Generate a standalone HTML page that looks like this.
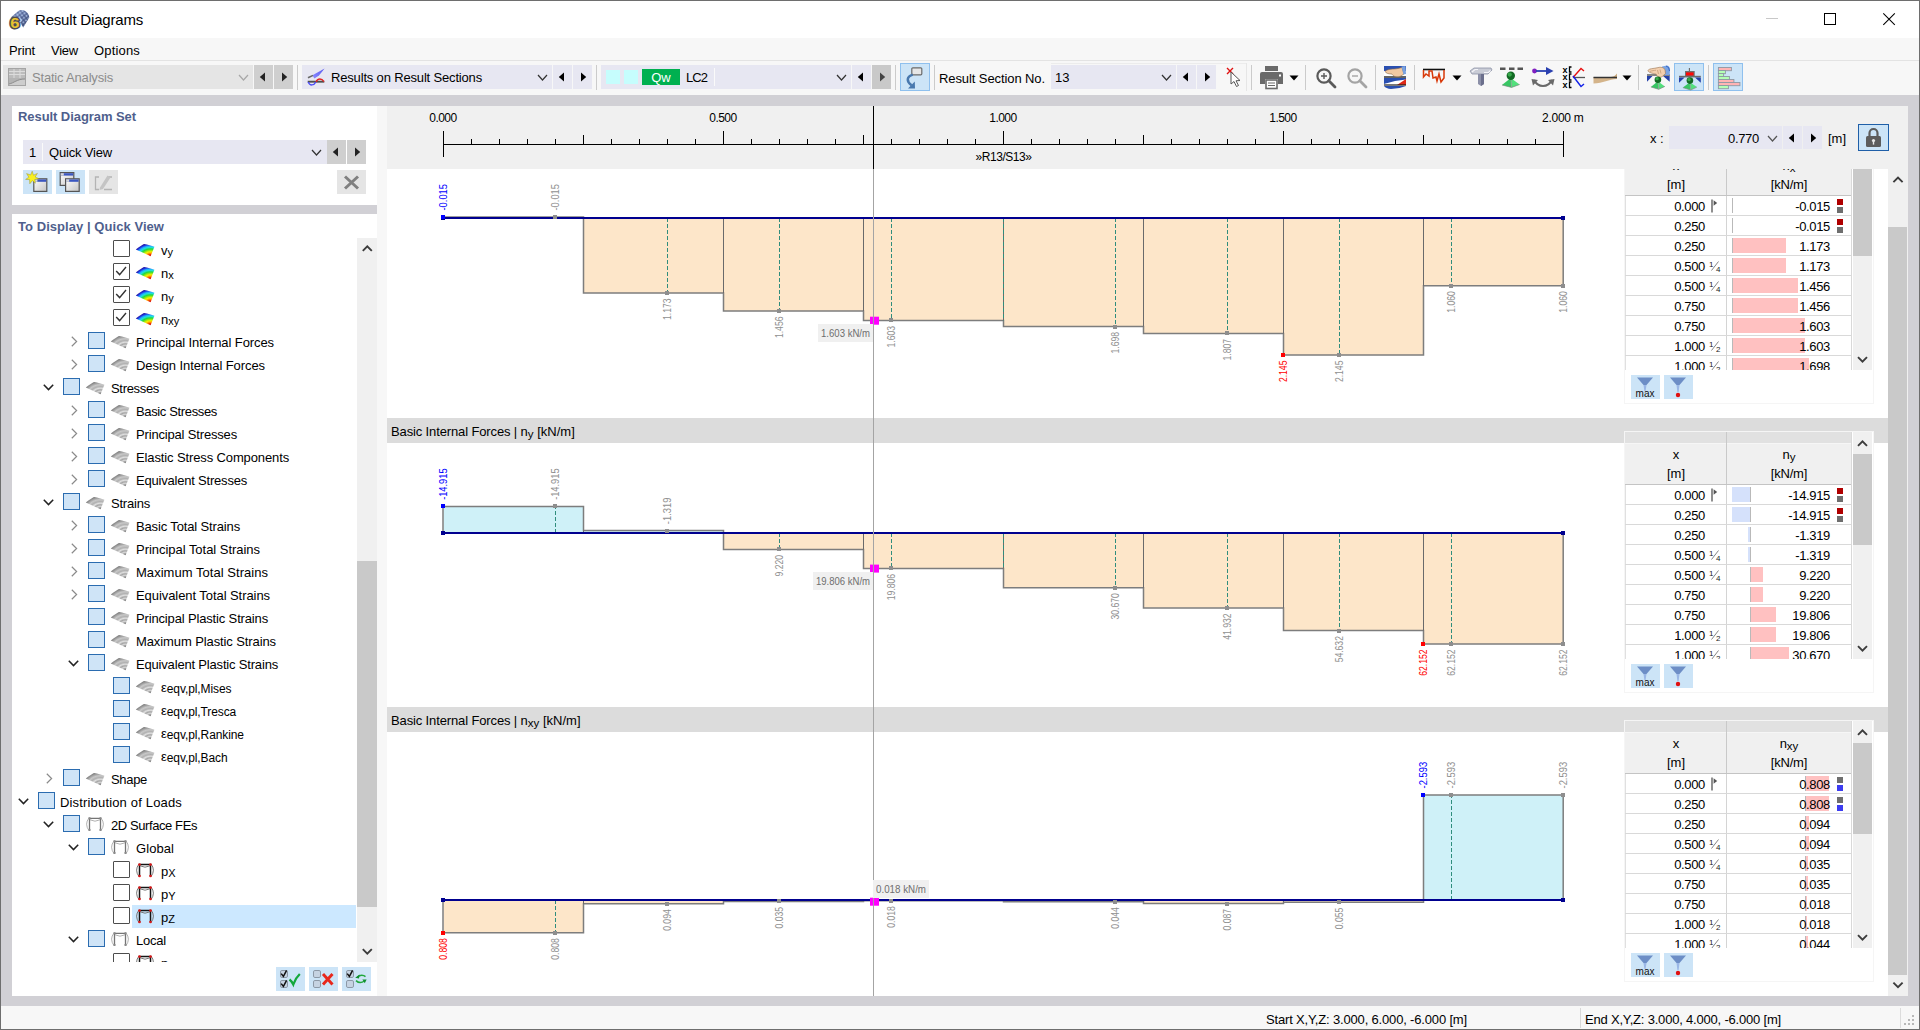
<!DOCTYPE html>
<html><head><meta charset="utf-8"><title>Result Diagrams</title>
<style>
html,body{margin:0;padding:0;}
body{width:1920px;height:1030px;overflow:hidden;position:relative;font-family:"Liberation Sans",sans-serif;font-size:13px;background:#d1d0d5;}
svg{display:block;overflow:visible;}
</style></head><body>
<div style="position:absolute;left:0px;top:0px;width:1920px;height:1030px;background:#d1d0d5;"></div>
<div style="position:absolute;left:0px;top:0px;width:1920px;height:1px;background:#6e6e6e;"></div>
<div style="position:absolute;left:0px;top:0px;width:1px;height:1030px;background:#6e6e6e;"></div>
<div style="position:absolute;left:1919px;top:0px;width:1px;height:1030px;background:#6e6e6e;"></div>
<div style="position:absolute;left:0px;top:1029px;width:1920px;height:1px;background:#6e6e6e;"></div>
<div style="position:absolute;left:1px;top:1px;width:1918px;height:37px;background:#ffffff;"></div>
<svg style="position:absolute;left:4px;top:4px;" width="32" height="30" viewBox="0 0 32 30">
      <defs><linearGradient id="ig" x1="0" y1="0" x2="1" y2="1"><stop offset="0" stop-color="#a4b6dc"/><stop offset="0.45" stop-color="#6c7fae"/><stop offset="1" stop-color="#3b4870"/></linearGradient>
      <pattern id="ck" width="3.2" height="3.2" patternUnits="userSpaceOnUse" patternTransform="rotate(-38)"><rect width="3.2" height="3.2" fill="none"/><rect width="1.6" height="1.6" fill="#c4d8f8" opacity="0.55"/><rect x="1.6" y="1.6" width="1.6" height="1.6" fill="#2a3868" opacity="0.35"/></pattern></defs>
      <path d="M6.7 13.6 L14.3 6.9 Q18 5.2 21.5 7.2 Q25 9.6 25.3 13.4 L19.2 23.6 Q16.5 18.2 12.8 15.8 Q9.5 14.4 6.7 13.6 Z" fill="url(#ig)"/>
      <path d="M6.7 13.6 L14.3 6.9 Q18 5.2 21.5 7.2 Q25 9.6 25.3 13.4 L19.2 23.6 Q16.5 18.2 12.8 15.8 Q9.5 14.4 6.7 13.6 Z" fill="url(#ck)"/>
      <ellipse cx="15.5" cy="16" rx="2" ry="2.6" fill="#d8eaff" opacity="0.75" transform="rotate(-30 15.5 16)"/>
      <g transform="translate(10.8 24.2) scale(1.18 1)" font-size="14" font-weight="bold" text-anchor="middle" font-family="Liberation Sans"><text x="0" y="0" fill="#4c4c52" stroke="#4c4c52" stroke-width="2.8" stroke-linejoin="round">6</text><text x="0" y="0" fill="#e8c230">6</text></g>
    </svg>
<div style="position:absolute;left:35px;top:9.0px;line-height:21px;font-size:15px;color:#000;white-space:pre;letter-spacing:-0.191px;">Result Diagrams</div>
<div style="position:absolute;left:1766px;top:18px;width:12px;height:1px;background:#c8c8c8;"></div>
<svg style="position:absolute;left:1824px;top:13px;" width="12" height="12" viewBox="0 0 12 12"><rect x="0.5" y="0.5" width="11" height="11" fill="none" stroke="#000" stroke-width="1"/></svg>
<svg style="position:absolute;left:1883px;top:13px;" width="12" height="12" viewBox="0 0 12 12"><path d="M0.3 0.3 L11.8 11.8 M11.8 0.3 L0.3 11.8" stroke="#000" stroke-width="1.1"/></svg>
<div style="position:absolute;left:1px;top:38px;width:1918px;height:23px;background:#f7f7f7;"></div>
<div style="position:absolute;left:9px;top:40.5px;line-height:19px;font-size:13px;color:#000;white-space:pre;letter-spacing:-0.146px;">Print</div>
<div style="position:absolute;left:51px;top:40.5px;line-height:19px;font-size:13px;color:#000;white-space:pre;letter-spacing:-0.235px;">View</div>
<div style="position:absolute;left:94px;top:40.5px;line-height:19px;font-size:13px;color:#000;white-space:pre;letter-spacing:0.171px;">Options</div>
<div style="position:absolute;left:1px;top:60px;width:1918px;height:1px;background:#e3e3e3;"></div>
<div style="position:absolute;left:1px;top:61px;width:1918px;height:34px;background:#f7f7f7;"></div>
<div style="position:absolute;left:3px;top:65px;width:250px;height:24px;background:#e5e5e5;"></div>
<svg style="position:absolute;left:8px;top:68px;" width="18" height="18" viewBox="0 0 18 18"><rect x="0" y="0" width="18" height="18" fill="#a4a4a4"/>
      <rect x="1" y="1" width="16" height="9" fill="#bcbcbc"/>
      <path d="M1 3.5 H17 M1 6.5 H17 M6 1 V10 M12 1 V10" stroke="#dcdcdc" stroke-width="1"/>
      <path d="M1 10 H17 V11 C9 11 6 15 1 16 Z" fill="#b4b4b4"/>
      <path d="M1 16 C6 15 9 11 17 11 V17 H1 Z" fill="#cdcdcd"/><path d="M1 16 C6 15 9 11 17 11" stroke="#8e8e8e" fill="none"/></svg>
<div style="position:absolute;left:32px;top:67.5px;line-height:19px;font-size:13px;color:#8c8c8c;white-space:pre;letter-spacing:-0.188px;">Static Analysis</div>
<svg style="position:absolute;left:238.0px;top:74.0px;" width="11" height="7" viewBox="0 0 11 7"><polyline points="1,1 5.5,6 10,1" fill="none" stroke="#a8a8a8" stroke-width="1.2"/></svg>
<div style="position:absolute;left:254px;top:65px;width:19px;height:24px;background:#cfcfcf;"></div>
<svg style="position:absolute;left:259px;top:72px;" width="8" height="10" viewBox="0 0 8 10"><polygon points="6,0.5 6,9.5 0.8,5" fill="#222"/></svg>
<div style="position:absolute;left:274px;top:65px;width:19px;height:24px;background:#cfcfcf;"></div>
<svg style="position:absolute;left:280px;top:72px;" width="8" height="10" viewBox="0 0 8 10"><polygon points="2,0.5 2,9.5 7.2,5" fill="#222"/></svg>
<div style="position:absolute;left:297px;top:65px;width:1px;height:25px;background:#cbcbcb;"></div>
<div style="position:absolute;left:302px;top:65px;width:250px;height:24px;background:#e7e7f2;"></div>
<svg style="position:absolute;left:307px;top:67px;" width="19" height="19" viewBox="0 0 19 19"><defs><linearGradient id="bl" x1="0" y1="1" x2="1" y2="0"><stop offset="0" stop-color="#8a8aff"/><stop offset="1" stop-color="#5a5af0"/></linearGradient></defs>
      <path d="M5.5 8.2 L17.6 1.4 L12 8.6 L7.4 11.4 Z" fill="url(#bl)"/>
      <path d="M1 10.8 L6 8.4" stroke="#686868" stroke-width="1.6"/>
      <path d="M0.7 14.7 H17.3" stroke="#4e4e4e" stroke-width="1.9"/>
      <path d="M1.2 15 C3 19.2 6.6 18.8 9 14.8" stroke="#4a4af8" stroke-width="1.3" fill="none"/>
      <path d="M9 14.8 C11 11 14.6 11.2 17 14.6" stroke="#e02424" stroke-width="1.4" fill="none"/></svg>
<div style="position:absolute;left:331px;top:67.5px;line-height:19px;font-size:13px;color:#000;white-space:pre;letter-spacing:-0.167px;">Results on Result Sections</div>
<svg style="position:absolute;left:537.0px;top:74.0px;" width="11" height="7" viewBox="0 0 11 7"><polyline points="1,1 5.5,6 10,1" fill="none" stroke="#333" stroke-width="1.2"/></svg>
<div style="position:absolute;left:553px;top:65px;width:19px;height:24px;background:#e7e7f2;"></div>
<svg style="position:absolute;left:558px;top:72px;" width="8" height="10" viewBox="0 0 8 10"><polygon points="6,0.5 6,9.5 0.8,5" fill="#000"/></svg>
<div style="position:absolute;left:573px;top:65px;width:19px;height:24px;background:#e7e7f2;"></div>
<svg style="position:absolute;left:579px;top:72px;" width="8" height="10" viewBox="0 0 8 10"><polygon points="2,0.5 2,9.5 7.2,5" fill="#000"/></svg>
<div style="position:absolute;left:596px;top:65px;width:1px;height:25px;background:#cbcbcb;"></div>
<div style="position:absolute;left:601px;top:65px;width:250px;height:24px;background:#e7e7f2;"></div>
<div style="position:absolute;left:606px;top:70px;width:14px;height:14px;background:#c6fdfd;"></div>
<div style="position:absolute;left:624px;top:70px;width:14px;height:14px;background:#c6fdfd;"></div>
<div style="position:absolute;left:642px;top:69px;width:38px;height:16px;background:#00b050;"></div>
<div style="position:absolute;left:461px;width:400px;text-align:center;top:68.0px;line-height:19px;font-size:13px;color:#fff;white-space:pre;">Qw</div>
<div style="position:absolute;left:686px;top:67.5px;line-height:19px;font-size:13px;color:#000;white-space:pre;letter-spacing:-0.949px;">LC2</div>
<div style="position:absolute;left:714px;top:68px;width:1px;height:18px;background:#fafafa;"></div>
<svg style="position:absolute;left:836.0px;top:74.0px;" width="11" height="7" viewBox="0 0 11 7"><polyline points="1,1 5.5,6 10,1" fill="none" stroke="#333" stroke-width="1.2"/></svg>
<div style="position:absolute;left:852px;top:65px;width:19px;height:24px;background:#e7e7f2;"></div>
<svg style="position:absolute;left:857px;top:72px;" width="8" height="10" viewBox="0 0 8 10"><polygon points="6,0.5 6,9.5 0.8,5" fill="#000"/></svg>
<div style="position:absolute;left:872px;top:65px;width:19px;height:24px;background:#c9c9c9;"></div>
<svg style="position:absolute;left:878px;top:72px;" width="8" height="10" viewBox="0 0 8 10"><polygon points="2,0.5 2,9.5 7.2,5" fill="#444"/></svg>
<div style="position:absolute;left:895px;top:65px;width:1px;height:25px;background:#cbcbcb;"></div>
<div style="position:absolute;left:900px;top:63px;width:30px;height:28px;background:#cce4f7;box-sizing:border-box;border:1px solid #8fc0ee;"></div>
<svg style="position:absolute;left:904px;top:66px;" width="22" height="22" viewBox="0 0 22 22"><rect x="7.8" y="1.8" width="10" height="7" rx="1" fill="#e6e6e6" stroke="#6a6a6a" stroke-width="1.2"/>
       <path d="M8.8 8.6 C2.5 10.5 2.2 15.5 7.5 19.2" stroke="#4878ae" stroke-width="2.5" fill="none"/>
       <polygon points="4,22.6 11,22.6 10.8,15.4" fill="#4878ae"/></svg>
<div style="position:absolute;left:934px;top:65px;width:1px;height:25px;background:#cbcbcb;"></div>
<div style="position:absolute;left:939px;top:68.5px;line-height:19px;font-size:13px;color:#000;white-space:pre;letter-spacing:-0.092px;">Result Section No.</div>
<div style="position:absolute;left:1051px;top:65px;width:125px;height:24px;background:#e7e7f2;"></div>
<div style="position:absolute;left:1051px;top:63px;width:196px;height:1px;background:#ececec;"></div>
<div style="position:absolute;left:1246px;top:63px;width:1px;height:28px;background:#e6e6e6;"></div>
<div style="position:absolute;left:1055px;top:67.5px;line-height:19px;font-size:13px;color:#000;white-space:pre;">13</div>
<svg style="position:absolute;left:1161.0px;top:74.0px;" width="11" height="7" viewBox="0 0 11 7"><polyline points="1,1 5.5,6 10,1" fill="none" stroke="#333" stroke-width="1.2"/></svg>
<div style="position:absolute;left:1177px;top:65px;width:19px;height:24px;background:#e7e7f2;"></div>
<svg style="position:absolute;left:1182px;top:72px;" width="8" height="10" viewBox="0 0 8 10"><polygon points="6,0.5 6,9.5 0.8,5" fill="#000"/></svg>
<div style="position:absolute;left:1197px;top:65px;width:19px;height:24px;background:#e7e7f2;"></div>
<svg style="position:absolute;left:1203px;top:72px;" width="8" height="10" viewBox="0 0 8 10"><polygon points="2,0.5 2,9.5 7.2,5" fill="#000"/></svg>
<svg style="position:absolute;left:1225px;top:66px;" width="18" height="22" viewBox="0 0 18 22"><path d="M2 2 L8 8 M8 2 L2 8" stroke="#e01010" stroke-width="1.4"/>
      <path d="M6 6 L6 18 L9 15.5 L11.5 20.5 L13.5 19.5 L11 14.8 L15 14.5 Z" fill="#fff" stroke="#555" stroke-width="1"/></svg>
<div style="position:absolute;left:1251px;top:65px;width:1px;height:25px;background:#cbcbcb;"></div>
<svg style="position:absolute;left:1260px;top:66px;" width="24" height="24" viewBox="0 0 24 24"><rect x="5" y="0" width="13" height="5" fill="#6a6a6a"/>
      <path d="M2 6 H21 Q23 6 23 8 V18 H18 V13 H5 V18 H0 V8 Q0 6 2 6 Z" fill="#6a6a6a"/>
      <rect x="19" y="8.5" width="2" height="2" fill="#fff"/>
      <rect x="6" y="14" width="11" height="8.5" fill="#fff" stroke="#6a6a6a" stroke-width="1.6"/>
      <path d="M8 17 H15 M8 19.5 H15" stroke="#6a6a6a" stroke-width="1.2"/></svg>
<svg style="position:absolute;left:1288.5px;top:74.5px;" width="10" height="6" viewBox="0 0 10 6"><polygon points="0.5,0.5 9.5,0.5 5,5.5" fill="#000"/></svg>
<div style="position:absolute;left:1305px;top:65px;width:1px;height:25px;background:#cbcbcb;"></div>
<svg style="position:absolute;left:1315px;top:67px;" width="22" height="22" viewBox="0 0 22 22"><circle cx="9" cy="9" r="6.6" fill="none" stroke="#5a5a5a" stroke-width="2.2"/><path d="M13.8 13.8 L20 20" stroke="#5a5a5a" stroke-width="2.8" stroke-linecap="round"/><path d="M6 9 H12 M9 6 V12" stroke="#5a5a5a" stroke-width="1.4"/></svg>
<svg style="position:absolute;left:1346px;top:67px;" width="22" height="22" viewBox="0 0 22 22"><circle cx="9" cy="9" r="6.6" fill="none" stroke="#a4a4a4" stroke-width="2.2"/><path d="M13.8 13.8 L20 20" stroke="#a4a4a4" stroke-width="2.8" stroke-linecap="round"/><path d="M6 9 H12" stroke="#a4a4a4" stroke-width="1.4"/></svg>
<div style="position:absolute;left:1375px;top:65px;width:1px;height:25px;background:#cbcbcb;"></div>
<svg style="position:absolute;left:1383px;top:66px;" width="24" height="24" viewBox="0 0 24 24"><rect x="1" y="0" width="22" height="5" fill="#2a4fb0"/>
      <rect x="1" y="5" width="22" height="6" fill="#fff"/><path d="M1 11 H23" stroke="#222" stroke-width="1.4"/>
      <path d="M1 12 H23 V15 L12 17 L1 18 Z" fill="#2a4fb0"/><path d="M1 18 L12 15 L23 13.5 V18 Z" fill="#fff"/>
      <path d="M23 13 V19 H14 Z" fill="#e02818"/><path d="M1 19 H23" stroke="#222" stroke-width="1.2"/>
      <path d="M1 20 H23 Q16 23 8 23 Q3 22.5 1 20 Z" fill="#2a4fb0"/>
      <path d="M2 5.5 C5 2.5 10 3.5 15 2.5 L19 1.5 L21 8 L17 10.5 C12 11.5 10 10 9 8 C6 8 3 7.5 2 5.5 Z" fill="#f2c9a2" stroke="#8a6a4a" stroke-width="0.6"/>
      <path d="M18.5 0.5 L22.5 0 L23 8 L20.5 8.5 Z" fill="#7aa2e0"/></svg>
<div style="position:absolute;left:1414px;top:65px;width:1px;height:25px;background:#cbcbcb;"></div>
<svg style="position:absolute;left:1422px;top:66px;" width="24" height="24" viewBox="0 0 24 24"><path d="M1 3.5 H23" stroke="#111" stroke-width="1.6"/>
      <path d="M1.5 4 V11 L4 8 L7 10 V5 L10 5 L11 12 L14 11 L15 15 L17 8 L19 16 L22 12 V4" fill="none" stroke="#d83808" stroke-width="1.5"/></svg>
<svg style="position:absolute;left:1451.5px;top:74.5px;" width="10" height="6" viewBox="0 0 10 6"><polygon points="0.5,0.5 9.5,0.5 5,5.5" fill="#000"/></svg>
<svg style="position:absolute;left:1469px;top:66px;" width="24" height="22" viewBox="0 0 24 22"><path d="M1 5 L5 2 H22 L23 4 L19 8 H3 Z" fill="#c9ccd6" stroke="#8d93a6" stroke-width="0.8"/>
      <path d="M3 6 L6 3.5 H9 M15 6.5 H19.5 L21.5 4.5" stroke="#f4f4f8" stroke-width="1.2" fill="none"/>
      <path d="M9 8 H15 V18 L12 20 L9 18 Z" fill="#8c90a8"/><path d="M12 8 H15 V18 L12 20 Z" fill="#6b6f8c"/></svg>
<svg style="position:absolute;left:1490px;top:60px;" width="40" height="35" viewBox="0 0 40 35"><path d="M10 8.7 H15.5 M19 8.7 H24.5 M27.5 8.7 H33" stroke="#555" stroke-width="2.4"/><polygon points="20.8,17.900000000000002 12.0,25.0 21.6,27.4" fill="#37c663"/><polygon points="20.8,17.900000000000002 21.6,27.4 29.6,24.5" fill="#52e07c"/><path d="M12.0 25.0 L21.6 27.4 L29.6 24.5" fill="none" stroke="#7a8a80" stroke-width="0.7"/><path d="M21.0 20.0 L21.6 27.4" stroke="#8aa092" stroke-width="0.8"/><circle cx="20.8" cy="15.8" r="4.2" fill="#126a24"/><circle cx="19.75" cy="14.540000000000001" r="2.1" fill="#3fb352" opacity="0.85"/></svg>
<svg style="position:absolute;left:1531px;top:66px;" width="24" height="24" viewBox="0 0 24 24"><circle cx="3.5" cy="5" r="2.4" fill="#8020c0"/><path d="M5 5 H16" stroke="#2a40b0" stroke-width="1.8"/><polygon points="15,1 22.5,5 15,9" fill="#2a40b0"/>
      <path d="M3 14 C7 22 17 22 21 14" stroke="#6a6a6a" stroke-width="2.2" fill="none"/>
      <polygon points="0.5,13 7,14 2,19.5" fill="#6a6a6a"/><polygon points="23.5,13 17,14 22,19.5" fill="#6a6a6a"/></svg>
<svg style="position:absolute;left:1562px;top:65px;" width="26" height="24" viewBox="0 0 26 24"><text x="0.5" y="7.5" font-size="9" font-weight="bold" font-family="Liberation Sans" fill="#000">x</text>
      <text x="0.5" y="15" font-size="9" font-weight="bold" font-family="Liberation Sans" fill="#000">x</text>
      <text x="0.5" y="23" font-size="9" font-weight="bold" font-family="Liberation Sans" fill="#000">x</text>
      <path d="M9.5 2 H7.5 V7 H9.5 M9.5 9 H7.5 V15 H9.5 M9.5 17 H7.5 V22.5 H9.5" stroke="#000" stroke-width="1.3" fill="none"/>
      <path d="M11 12.5 H23" stroke="#555" stroke-width="1.3"/>
      <path d="M11 12.5 L19 3.5 L22 6" stroke="#e81010" stroke-width="1.4" fill="none"/>
      <path d="M11 11 L19 21.5 L22 19" stroke="#1020e8" stroke-width="1.4" fill="none"/></svg>
<svg style="position:absolute;left:1593px;top:70px;" width="25" height="16" viewBox="0 0 25 16"><path d="M0.5 7 H18 C21 6.5 23 5 24 3.5 V7 V8 H0.5 Z" fill="#c9a97e"/>
      <path d="M0.5 8 H24 V9 C16 9 10 13.5 0.5 13.5 Z" fill="#d4b48a"/><path d="M0.5 7.5 H24" stroke="#333" stroke-width="1.5"/></svg>
<svg style="position:absolute;left:1622px;top:74.5px;" width="10" height="6" viewBox="0 0 10 6"><polygon points="0.5,0.5 9.5,0.5 5,5.5" fill="#000"/></svg>
<div style="position:absolute;left:1638px;top:65px;width:1px;height:25px;background:#cbcbcb;"></div>
<svg style="position:absolute;left:1640px;top:60px;" width="110" height="35" viewBox="0 0 110 35"><path d="M7 15 H30" stroke="#6a6a6a" stroke-width="1.6"/>
      <polygon points="7,16 12.5,16 7,21.8" fill="#2440a8"/><polygon points="23,16 29.7,16 29.7,21.8" fill="#2440a8"/>
      <path d="M22 6.5 L27 5.5 Q30 6 30 10 L29.7 15 L24 15 Z" fill="#7aa4e4"/><path d="M26 6 Q29.5 6.5 29.5 11" stroke="#2a5cc0" stroke-width="0.9" fill="none"/>
      <path d="M7.8 10.6 C9.5 8.2 13 8.8 17 7.8 L20 7.2 Q23.5 7 25 9.5 L25.5 13.5 L22 16.8 C19 18 17 16.5 16.2 14.2 C13 13.2 9 13.2 7.8 10.6 Z" fill="#f3cfae" stroke="#9a7450" stroke-width="0.6"/>
      <path d="M10 11.5 C12 10.5 14 10.6 16 10.2 M17.5 10 L18.5 14 M20 9.5 L21 13.5" stroke="#b98e68" stroke-width="0.6" fill="none"/><polygon points="17.9,21.349999999999998 10.899999999999999,26.9 18.7,29.299999999999997" fill="#37c663"/><polygon points="17.9,21.349999999999998 18.7,29.299999999999997 24.9,26.4" fill="#52e07c"/><path d="M10.899999999999999 26.9 L18.7 29.299999999999997 L24.9 26.4" fill="none" stroke="#7a8a80" stroke-width="0.7"/><path d="M18.099999999999998 23.0 L18.7 29.299999999999997" stroke="#8aa092" stroke-width="0.8"/><circle cx="17.9" cy="19.7" r="3.3" fill="#126a24"/><circle cx="17.075" cy="18.71" r="1.65" fill="#3fb352" opacity="0.85"/></svg>
<div style="position:absolute;left:1674px;top:63px;width:30px;height:28px;background:#cce4f7;box-sizing:border-box;border:1px solid #8fc0ee;"></div>
<svg style="position:absolute;left:1640px;top:60px;" width="110" height="35" viewBox="0 0 110 35"><path d="M49.4 8 V11.5" stroke="#666" stroke-width="1.1"/>
      <rect x="45" y="11" width="9.7" height="5.4" fill="#6e6e6e"/><rect x="46" y="12.4" width="7.6" height="3.2" fill="#ff0808"/>
      <path d="M39 16.6 H60.8" stroke="#6a6a6a" stroke-width="1.6"/>
      <polygon points="39,17.5 44.6,17.5 39,22.8" fill="#2440a8"/><polygon points="55,17.5 60.8,17.5 60.8,22.8" fill="#2440a8"/><polygon points="49.9,22.25 42.9,27.6 50.699999999999996,30.0" fill="#37c663"/><polygon points="49.9,22.25 50.699999999999996,30.0 56.9,27.1" fill="#52e07c"/><path d="M42.9 27.6 L50.699999999999996 30.0 L56.9 27.1" fill="none" stroke="#7a8a80" stroke-width="0.7"/><path d="M50.1 23.900000000000002 L50.699999999999996 30.0" stroke="#8aa092" stroke-width="0.8"/><circle cx="49.9" cy="20.6" r="3.3" fill="#126a24"/><circle cx="49.074999999999996" cy="19.610000000000003" r="1.65" fill="#3fb352" opacity="0.85"/></svg>
<div style="position:absolute;left:1708px;top:65px;width:1px;height:25px;background:#cbcbcb;"></div>
<div style="position:absolute;left:1713px;top:63px;width:30px;height:28px;background:#cce4f7;box-sizing:border-box;border:1px solid #8fc0ee;"></div>
<svg style="position:absolute;left:1640px;top:60px;" width="110" height="35" viewBox="0 0 110 35"><rect x="78.4" y="7.5" width="13" height="3.2" fill="#ffb4b4" stroke="#8e99a4" stroke-width="0.9"/><rect x="78.4" y="10.5" width="7" height="3.2" fill="#b4ffb4" stroke="#8e99a4" stroke-width="0.9"/><rect x="78.4" y="13.5" width="5.2" height="3.2" fill="#b4ffb4" stroke="#8e99a4" stroke-width="0.9"/><rect x="78.4" y="16.5" width="11" height="3.2" fill="#b4ffb4" stroke="#8e99a4" stroke-width="0.9"/><rect x="78.4" y="19.5" width="15.5" height="3.2" fill="#ffb4b4" stroke="#8e99a4" stroke-width="0.9"/><rect x="78.4" y="22.5" width="21.5" height="3.2" fill="#ffb4b4" stroke="#8e99a4" stroke-width="0.9"/><rect x="78.4" y="25.5" width="10" height="3.2" fill="#b4ffb4" stroke="#8e99a4" stroke-width="0.9"/></svg>
<div style="position:absolute;left:1px;top:1006px;width:1918px;height:23px;background:#f7f7f7;"></div>
<div style="position:absolute;left:1266px;top:1009.5px;line-height:19px;font-size:13px;color:#000;white-space:pre;letter-spacing:-0.167px;">Start X,Y,Z: 3.000, 6.000, -6.000 [m]</div>
<div style="position:absolute;left:1580px;top:1008px;width:1px;height:20px;background:#d8d8d8;"></div>
<div style="position:absolute;left:1585px;top:1009.5px;line-height:19px;font-size:13px;color:#000;white-space:pre;letter-spacing:-0.195px;">End X,Y,Z: 3.000, 4.000, -6.000 [m]</div>
<div style="position:absolute;left:1900px;top:1008px;width:1px;height:20px;background:#dcdcdc;"></div>
<svg style="position:absolute;left:1902px;top:1013px;" width="14" height="14" viewBox="0 0 14 14"><g fill="#b8b8b8"><rect x="10" y="2" width="2" height="2"/><rect x="6" y="6" width="2" height="2"/><rect x="10" y="6" width="2" height="2"/><rect x="2" y="10" width="2" height="2"/><rect x="6" y="10" width="2" height="2"/><rect x="10" y="10" width="2" height="2"/></g></svg>
<div style="position:absolute;left:12px;top:106px;width:365px;height:890px;background:#ffffff;"></div>
<div style="position:absolute;left:377px;top:106px;width:10px;height:890px;background:#f7f7f7;"></div>
<div style="position:absolute;left:12px;top:205px;width:365px;height:9px;background:#d1d0d5;"></div>
<div style="position:absolute;left:18px;top:106.8px;line-height:19px;font-size:13px;color:#4f5f8d;white-space:pre;font-weight:bold;letter-spacing:-0.067px;">Result Diagram Set</div>
<div style="position:absolute;left:23px;top:140px;width:304px;height:24px;background:#e7e7f2;"></div>
<div style="position:absolute;left:29px;top:142.5px;line-height:19px;font-size:13px;color:#000;white-space:pre;">1</div>
<div style="position:absolute;left:42px;top:143px;width:1px;height:18px;background:#fafafa;"></div>
<div style="position:absolute;left:49px;top:142.5px;line-height:19px;font-size:13px;color:#000;white-space:pre;letter-spacing:-0.178px;">Quick View</div>
<svg style="position:absolute;left:310.5px;top:149.0px;" width="11" height="7" viewBox="0 0 11 7"><polyline points="1,1 5.5,6 10,1" fill="none" stroke="#333" stroke-width="1.2"/></svg>
<div style="position:absolute;left:327px;top:140px;width:19px;height:24px;background:#cfcfcf;"></div>
<svg style="position:absolute;left:332px;top:147px;" width="8" height="10" viewBox="0 0 8 10"><polygon points="6,0.5 6,9.5 0.8,5" fill="#222"/></svg>
<div style="position:absolute;left:347px;top:140px;width:19px;height:24px;background:#cfcfcf;"></div>
<svg style="position:absolute;left:353px;top:147px;" width="8" height="10" viewBox="0 0 8 10"><polygon points="2,0.5 2,9.5 7.2,5" fill="#222"/></svg>
<div style="position:absolute;left:23px;top:170px;width:29px;height:24px;background:#cce4f7;"></div>
<div style="position:absolute;left:56px;top:170px;width:29px;height:24px;background:#cce4f7;"></div>
<div style="position:absolute;left:89px;top:170px;width:29px;height:24px;background:#e5e5e5;"></div>
<div style="position:absolute;left:337px;top:170px;width:29px;height:24px;background:#e5e5e5;"></div>
<svg style="position:absolute;left:26px;top:172px;" width="24" height="22" viewBox="0 0 24 22"><defs><linearGradient id="wg" x1="0" y1="0" x2="1" y2="1"><stop offset="0" stop-color="#ffffff"/><stop offset="1" stop-color="#c4c4c4"/></linearGradient></defs>
      <rect x="7.8" y="6.8" width="13" height="12.6" fill="url(#wg)" stroke="#555" stroke-width="1.2"/><rect x="8.4" y="7.4" width="11.8" height="2.4" fill="#3a56c0"/><rect x="8.4" y="7.4" width="3" height="2.4" fill="#d8d8d8"/>
      <path d="M6.2 -0.8 L7.5 3.2 L11.4 1.4 L9.2 5 L12.8 6.6 L8.8 7.4 L9.4 11.2 L6.4 8.6 L3.8 11.8 L3.6 7.6 L-0.4 7.4 L2.8 5.2 L0.6 1.6 L4.6 3 Z" fill="#f8f020" stroke="#9a9430" stroke-width="0.5"/></svg>
<svg style="position:absolute;left:59px;top:172px;" width="24" height="22" viewBox="0 0 24 22"><rect x="1.2" y="0.6" width="13.6" height="12.8" fill="url(#wg)" stroke="#555" stroke-width="1.2"/><rect x="1.8" y="1.2" width="12.4" height="2.4" fill="#3a56c0"/><rect x="1.8" y="1.2" width="3" height="2.4" fill="#d8d8d8"/>
      <rect x="6.6" y="6.8" width="13.6" height="12.6" fill="url(#wg)" stroke="#555" stroke-width="1.2"/><rect x="7.2" y="7.4" width="12.4" height="2.4" fill="#3a56c0"/><rect x="7.2" y="7.4" width="3" height="2.4" fill="#d8d8d8"/></svg>
<svg style="position:absolute;left:92px;top:172px;" width="24" height="22" viewBox="0 0 24 22"><path d="M7 5 H3.5 V17.5 H7 M12 17.5 H20 M15 5 H20" stroke="#b4b4b4" stroke-width="1.3" fill="none"/>
      <path d="M8 15.5 L15.5 3.5 L18.5 5.5 L11 17 L7.5 18 Z" fill="#c4c4c4"/></svg>
<svg style="position:absolute;left:343px;top:175px;" width="17" height="15" viewBox="0 0 17 15"><path d="M2 1.5 L15 13.5 M15 1.5 L2 13.5" stroke="#808080" stroke-width="3"/></svg>
<div style="position:absolute;left:18px;top:216.5px;line-height:19px;font-size:13px;color:#4f5f8d;white-space:pre;font-weight:bold;letter-spacing:0.054px;">To Display | Quick View</div>
<div style="position:absolute;left:12px;top:238px;width:345px;height:724px;overflow:hidden">
<div style="position:absolute;left:-12px;top:-238px;width:400px;height:1030px">
<div style="position:absolute;left:113px;top:240px;width:16.5px;height:16.5px;box-sizing:border-box;border:1.5px solid #4d4d4d;border-radius:1px;background:#fff"></div>
<svg style="position:absolute;left:136px;top:244px;" width="19" height="13" viewBox="0 0 19 13"><defs><radialGradient id="sg1" cx="14.5" cy="12.6" r="13.2" gradientUnits="userSpaceOnUse" gradientTransform="translate(14.5 12.6) scale(1.3 1) translate(-14.5 -12.6)"><stop offset="0" stop-color="#c00000"/><stop offset="0.13" stop-color="#e81800"/><stop offset="0.24" stop-color="#ff8c00"/><stop offset="0.36" stop-color="#f6f000"/><stop offset="0.47" stop-color="#90e810"/><stop offset="0.58" stop-color="#20d840"/><stop offset="0.7" stop-color="#20e0d8"/><stop offset="0.8" stop-color="#20a8ff"/><stop offset="0.9" stop-color="#2038e0"/><stop offset="1" stop-color="#1a0c9c"/></radialGradient></defs><path d="M-0.2 5.6 C3.5 2.6 6.5 0.8 8 0.1 C12 0.8 15.5 1.8 18.4 2.8 L14.6 12.2 C10 10.2 5 8 -0.2 5.6 Z" fill="url(#sg1)"/></svg>
<div style="position:absolute;left:161px;top:241.0px;line-height:19px;font-size:13px;color:#000;white-space:pre;">v<span style="font-size:11px;position:relative;top:0.5px;letter-spacing:-0.1px">y</span></div>
<div style="position:absolute;left:113px;top:263px;width:16.5px;height:16.5px;box-sizing:border-box;border:1.5px solid #4d4d4d;border-radius:1px;background:#fff"></div>
<svg style="position:absolute;left:113px;top:263px;" width="16" height="16" viewBox="0 0 16 16"><polyline points="3.2,8 6.6,11.6 13,4" fill="none" stroke="#333" stroke-width="1.4"/></svg>
<svg style="position:absolute;left:136px;top:267px;" width="19" height="13" viewBox="0 0 19 13"><defs><radialGradient id="sg2" cx="14.5" cy="12.6" r="13.2" gradientUnits="userSpaceOnUse" gradientTransform="translate(14.5 12.6) scale(1.3 1) translate(-14.5 -12.6)"><stop offset="0" stop-color="#c00000"/><stop offset="0.13" stop-color="#e81800"/><stop offset="0.24" stop-color="#ff8c00"/><stop offset="0.36" stop-color="#f6f000"/><stop offset="0.47" stop-color="#90e810"/><stop offset="0.58" stop-color="#20d840"/><stop offset="0.7" stop-color="#20e0d8"/><stop offset="0.8" stop-color="#20a8ff"/><stop offset="0.9" stop-color="#2038e0"/><stop offset="1" stop-color="#1a0c9c"/></radialGradient></defs><path d="M-0.2 5.6 C3.5 2.6 6.5 0.8 8 0.1 C12 0.8 15.5 1.8 18.4 2.8 L14.6 12.2 C10 10.2 5 8 -0.2 5.6 Z" fill="url(#sg2)"/></svg>
<div style="position:absolute;left:161px;top:264.0px;line-height:19px;font-size:13px;color:#000;white-space:pre;">n<span style="font-size:11px;position:relative;top:0.5px;letter-spacing:-0.1px">x</span></div>
<div style="position:absolute;left:113px;top:286px;width:16.5px;height:16.5px;box-sizing:border-box;border:1.5px solid #4d4d4d;border-radius:1px;background:#fff"></div>
<svg style="position:absolute;left:113px;top:286px;" width="16" height="16" viewBox="0 0 16 16"><polyline points="3.2,8 6.6,11.6 13,4" fill="none" stroke="#333" stroke-width="1.4"/></svg>
<svg style="position:absolute;left:136px;top:290px;" width="19" height="13" viewBox="0 0 19 13"><defs><radialGradient id="sg3" cx="14.5" cy="12.6" r="13.2" gradientUnits="userSpaceOnUse" gradientTransform="translate(14.5 12.6) scale(1.3 1) translate(-14.5 -12.6)"><stop offset="0" stop-color="#c00000"/><stop offset="0.13" stop-color="#e81800"/><stop offset="0.24" stop-color="#ff8c00"/><stop offset="0.36" stop-color="#f6f000"/><stop offset="0.47" stop-color="#90e810"/><stop offset="0.58" stop-color="#20d840"/><stop offset="0.7" stop-color="#20e0d8"/><stop offset="0.8" stop-color="#20a8ff"/><stop offset="0.9" stop-color="#2038e0"/><stop offset="1" stop-color="#1a0c9c"/></radialGradient></defs><path d="M-0.2 5.6 C3.5 2.6 6.5 0.8 8 0.1 C12 0.8 15.5 1.8 18.4 2.8 L14.6 12.2 C10 10.2 5 8 -0.2 5.6 Z" fill="url(#sg3)"/></svg>
<div style="position:absolute;left:161px;top:287.0px;line-height:19px;font-size:13px;color:#000;white-space:pre;">n<span style="font-size:11px;position:relative;top:0.5px;letter-spacing:-0.1px">y</span></div>
<div style="position:absolute;left:113px;top:309px;width:16.5px;height:16.5px;box-sizing:border-box;border:1.5px solid #4d4d4d;border-radius:1px;background:#fff"></div>
<svg style="position:absolute;left:113px;top:309px;" width="16" height="16" viewBox="0 0 16 16"><polyline points="3.2,8 6.6,11.6 13,4" fill="none" stroke="#333" stroke-width="1.4"/></svg>
<svg style="position:absolute;left:136px;top:313px;" width="19" height="13" viewBox="0 0 19 13"><defs><radialGradient id="sg4" cx="14.5" cy="12.6" r="13.2" gradientUnits="userSpaceOnUse" gradientTransform="translate(14.5 12.6) scale(1.3 1) translate(-14.5 -12.6)"><stop offset="0" stop-color="#c00000"/><stop offset="0.13" stop-color="#e81800"/><stop offset="0.24" stop-color="#ff8c00"/><stop offset="0.36" stop-color="#f6f000"/><stop offset="0.47" stop-color="#90e810"/><stop offset="0.58" stop-color="#20d840"/><stop offset="0.7" stop-color="#20e0d8"/><stop offset="0.8" stop-color="#20a8ff"/><stop offset="0.9" stop-color="#2038e0"/><stop offset="1" stop-color="#1a0c9c"/></radialGradient></defs><path d="M-0.2 5.6 C3.5 2.6 6.5 0.8 8 0.1 C12 0.8 15.5 1.8 18.4 2.8 L14.6 12.2 C10 10.2 5 8 -0.2 5.6 Z" fill="url(#sg4)"/></svg>
<div style="position:absolute;left:161px;top:310.0px;line-height:19px;font-size:13px;color:#000;white-space:pre;">n<span style="font-size:11px;position:relative;top:0.5px;letter-spacing:-0.1px">xy</span></div>
<svg style="position:absolute;left:70.5px;top:336.0px;" width="7" height="11" viewBox="0 0 7 11"><polyline points="0.8,0.8 5.6,5.5 0.8,10.2" fill="none" stroke="#8a8a8a" stroke-width="1.2"/></svg>
<div style="position:absolute;left:88px;top:332px;width:16.5px;height:16.5px;box-sizing:border-box;border:1.8px solid #2b6cb0;background:#cfe4f7"></div>
<svg style="position:absolute;left:111px;top:336px;" width="19" height="13" viewBox="0 0 19 13"><defs><radialGradient id="sg5" cx="14.5" cy="12.6" r="13.2" gradientUnits="userSpaceOnUse" gradientTransform="translate(14.5 12.6) scale(1.3 1) translate(-14.5 -12.6)"><stop offset="0" stop-color="#6a6a6a"/><stop offset="0.12" stop-color="#8c8c8c"/><stop offset="0.25" stop-color="#d8d8d8"/><stop offset="0.36" stop-color="#a4a4a4"/><stop offset="0.48" stop-color="#e0e0e0"/><stop offset="0.6" stop-color="#b0b0b0"/><stop offset="0.75" stop-color="#c8c8c8"/><stop offset="0.9" stop-color="#9a9a9a"/><stop offset="1" stop-color="#7c7c7c"/></radialGradient></defs><path d="M-0.2 5.6 C3.5 2.6 6.5 0.8 8 0.1 C12 0.8 15.5 1.8 18.4 2.8 L14.6 12.2 C10 10.2 5 8 -0.2 5.6 Z" fill="url(#sg5)"/></svg>
<div style="position:absolute;left:136px;top:333.0px;line-height:19px;font-size:13px;color:#000;white-space:pre;letter-spacing:-0.087px;">Principal Internal Forces</div>
<svg style="position:absolute;left:70.5px;top:359.0px;" width="7" height="11" viewBox="0 0 7 11"><polyline points="0.8,0.8 5.6,5.5 0.8,10.2" fill="none" stroke="#8a8a8a" stroke-width="1.2"/></svg>
<div style="position:absolute;left:88px;top:355px;width:16.5px;height:16.5px;box-sizing:border-box;border:1.8px solid #2b6cb0;background:#cfe4f7"></div>
<svg style="position:absolute;left:111px;top:359px;" width="19" height="13" viewBox="0 0 19 13"><defs><radialGradient id="sg6" cx="14.5" cy="12.6" r="13.2" gradientUnits="userSpaceOnUse" gradientTransform="translate(14.5 12.6) scale(1.3 1) translate(-14.5 -12.6)"><stop offset="0" stop-color="#6a6a6a"/><stop offset="0.12" stop-color="#8c8c8c"/><stop offset="0.25" stop-color="#d8d8d8"/><stop offset="0.36" stop-color="#a4a4a4"/><stop offset="0.48" stop-color="#e0e0e0"/><stop offset="0.6" stop-color="#b0b0b0"/><stop offset="0.75" stop-color="#c8c8c8"/><stop offset="0.9" stop-color="#9a9a9a"/><stop offset="1" stop-color="#7c7c7c"/></radialGradient></defs><path d="M-0.2 5.6 C3.5 2.6 6.5 0.8 8 0.1 C12 0.8 15.5 1.8 18.4 2.8 L14.6 12.2 C10 10.2 5 8 -0.2 5.6 Z" fill="url(#sg6)"/></svg>
<div style="position:absolute;left:136px;top:356.0px;line-height:19px;font-size:13px;color:#000;white-space:pre;letter-spacing:-0.081px;">Design Internal Forces</div>
<svg style="position:absolute;left:42.5px;top:384.0px;" width="11" height="7" viewBox="0 0 11 7"><polyline points="0.8,0.8 5.5,5.6 10.2,0.8" fill="none" stroke="#222" stroke-width="1.5"/></svg>
<div style="position:absolute;left:63px;top:378px;width:16.5px;height:16.5px;box-sizing:border-box;border:1.8px solid #2b6cb0;background:#cfe4f7"></div>
<svg style="position:absolute;left:86px;top:382px;" width="19" height="13" viewBox="0 0 19 13"><defs><radialGradient id="sg7" cx="14.5" cy="12.6" r="13.2" gradientUnits="userSpaceOnUse" gradientTransform="translate(14.5 12.6) scale(1.3 1) translate(-14.5 -12.6)"><stop offset="0" stop-color="#6a6a6a"/><stop offset="0.12" stop-color="#8c8c8c"/><stop offset="0.25" stop-color="#d8d8d8"/><stop offset="0.36" stop-color="#a4a4a4"/><stop offset="0.48" stop-color="#e0e0e0"/><stop offset="0.6" stop-color="#b0b0b0"/><stop offset="0.75" stop-color="#c8c8c8"/><stop offset="0.9" stop-color="#9a9a9a"/><stop offset="1" stop-color="#7c7c7c"/></radialGradient></defs><path d="M-0.2 5.6 C3.5 2.6 6.5 0.8 8 0.1 C12 0.8 15.5 1.8 18.4 2.8 L14.6 12.2 C10 10.2 5 8 -0.2 5.6 Z" fill="url(#sg7)"/></svg>
<div style="position:absolute;left:111px;top:379.0px;line-height:19px;font-size:13px;color:#000;white-space:pre;letter-spacing:-0.321px;">Stresses</div>
<svg style="position:absolute;left:70.5px;top:405.0px;" width="7" height="11" viewBox="0 0 7 11"><polyline points="0.8,0.8 5.6,5.5 0.8,10.2" fill="none" stroke="#8a8a8a" stroke-width="1.2"/></svg>
<div style="position:absolute;left:88px;top:401px;width:16.5px;height:16.5px;box-sizing:border-box;border:1.8px solid #2b6cb0;background:#cfe4f7"></div>
<svg style="position:absolute;left:111px;top:405px;" width="19" height="13" viewBox="0 0 19 13"><defs><radialGradient id="sg8" cx="14.5" cy="12.6" r="13.2" gradientUnits="userSpaceOnUse" gradientTransform="translate(14.5 12.6) scale(1.3 1) translate(-14.5 -12.6)"><stop offset="0" stop-color="#6a6a6a"/><stop offset="0.12" stop-color="#8c8c8c"/><stop offset="0.25" stop-color="#d8d8d8"/><stop offset="0.36" stop-color="#a4a4a4"/><stop offset="0.48" stop-color="#e0e0e0"/><stop offset="0.6" stop-color="#b0b0b0"/><stop offset="0.75" stop-color="#c8c8c8"/><stop offset="0.9" stop-color="#9a9a9a"/><stop offset="1" stop-color="#7c7c7c"/></radialGradient></defs><path d="M-0.2 5.6 C3.5 2.6 6.5 0.8 8 0.1 C12 0.8 15.5 1.8 18.4 2.8 L14.6 12.2 C10 10.2 5 8 -0.2 5.6 Z" fill="url(#sg8)"/></svg>
<div style="position:absolute;left:136px;top:402.0px;line-height:19px;font-size:13px;color:#000;white-space:pre;letter-spacing:-0.355px;">Basic Stresses</div>
<svg style="position:absolute;left:70.5px;top:428.0px;" width="7" height="11" viewBox="0 0 7 11"><polyline points="0.8,0.8 5.6,5.5 0.8,10.2" fill="none" stroke="#8a8a8a" stroke-width="1.2"/></svg>
<div style="position:absolute;left:88px;top:424px;width:16.5px;height:16.5px;box-sizing:border-box;border:1.8px solid #2b6cb0;background:#cfe4f7"></div>
<svg style="position:absolute;left:111px;top:428px;" width="19" height="13" viewBox="0 0 19 13"><defs><radialGradient id="sg9" cx="14.5" cy="12.6" r="13.2" gradientUnits="userSpaceOnUse" gradientTransform="translate(14.5 12.6) scale(1.3 1) translate(-14.5 -12.6)"><stop offset="0" stop-color="#6a6a6a"/><stop offset="0.12" stop-color="#8c8c8c"/><stop offset="0.25" stop-color="#d8d8d8"/><stop offset="0.36" stop-color="#a4a4a4"/><stop offset="0.48" stop-color="#e0e0e0"/><stop offset="0.6" stop-color="#b0b0b0"/><stop offset="0.75" stop-color="#c8c8c8"/><stop offset="0.9" stop-color="#9a9a9a"/><stop offset="1" stop-color="#7c7c7c"/></radialGradient></defs><path d="M-0.2 5.6 C3.5 2.6 6.5 0.8 8 0.1 C12 0.8 15.5 1.8 18.4 2.8 L14.6 12.2 C10 10.2 5 8 -0.2 5.6 Z" fill="url(#sg9)"/></svg>
<div style="position:absolute;left:136px;top:425.0px;line-height:19px;font-size:13px;color:#000;white-space:pre;letter-spacing:-0.169px;">Principal Stresses</div>
<svg style="position:absolute;left:70.5px;top:451.0px;" width="7" height="11" viewBox="0 0 7 11"><polyline points="0.8,0.8 5.6,5.5 0.8,10.2" fill="none" stroke="#8a8a8a" stroke-width="1.2"/></svg>
<div style="position:absolute;left:88px;top:447px;width:16.5px;height:16.5px;box-sizing:border-box;border:1.8px solid #2b6cb0;background:#cfe4f7"></div>
<svg style="position:absolute;left:111px;top:451px;" width="19" height="13" viewBox="0 0 19 13"><defs><radialGradient id="sg10" cx="14.5" cy="12.6" r="13.2" gradientUnits="userSpaceOnUse" gradientTransform="translate(14.5 12.6) scale(1.3 1) translate(-14.5 -12.6)"><stop offset="0" stop-color="#6a6a6a"/><stop offset="0.12" stop-color="#8c8c8c"/><stop offset="0.25" stop-color="#d8d8d8"/><stop offset="0.36" stop-color="#a4a4a4"/><stop offset="0.48" stop-color="#e0e0e0"/><stop offset="0.6" stop-color="#b0b0b0"/><stop offset="0.75" stop-color="#c8c8c8"/><stop offset="0.9" stop-color="#9a9a9a"/><stop offset="1" stop-color="#7c7c7c"/></radialGradient></defs><path d="M-0.2 5.6 C3.5 2.6 6.5 0.8 8 0.1 C12 0.8 15.5 1.8 18.4 2.8 L14.6 12.2 C10 10.2 5 8 -0.2 5.6 Z" fill="url(#sg10)"/></svg>
<div style="position:absolute;left:136px;top:448.0px;line-height:19px;font-size:13px;color:#000;white-space:pre;letter-spacing:-0.122px;">Elastic Stress Components</div>
<svg style="position:absolute;left:70.5px;top:474.0px;" width="7" height="11" viewBox="0 0 7 11"><polyline points="0.8,0.8 5.6,5.5 0.8,10.2" fill="none" stroke="#8a8a8a" stroke-width="1.2"/></svg>
<div style="position:absolute;left:88px;top:470px;width:16.5px;height:16.5px;box-sizing:border-box;border:1.8px solid #2b6cb0;background:#cfe4f7"></div>
<svg style="position:absolute;left:111px;top:474px;" width="19" height="13" viewBox="0 0 19 13"><defs><radialGradient id="sg11" cx="14.5" cy="12.6" r="13.2" gradientUnits="userSpaceOnUse" gradientTransform="translate(14.5 12.6) scale(1.3 1) translate(-14.5 -12.6)"><stop offset="0" stop-color="#6a6a6a"/><stop offset="0.12" stop-color="#8c8c8c"/><stop offset="0.25" stop-color="#d8d8d8"/><stop offset="0.36" stop-color="#a4a4a4"/><stop offset="0.48" stop-color="#e0e0e0"/><stop offset="0.6" stop-color="#b0b0b0"/><stop offset="0.75" stop-color="#c8c8c8"/><stop offset="0.9" stop-color="#9a9a9a"/><stop offset="1" stop-color="#7c7c7c"/></radialGradient></defs><path d="M-0.2 5.6 C3.5 2.6 6.5 0.8 8 0.1 C12 0.8 15.5 1.8 18.4 2.8 L14.6 12.2 C10 10.2 5 8 -0.2 5.6 Z" fill="url(#sg11)"/></svg>
<div style="position:absolute;left:136px;top:471.0px;line-height:19px;font-size:13px;color:#000;white-space:pre;letter-spacing:-0.205px;">Equivalent Stresses</div>
<svg style="position:absolute;left:42.5px;top:499.0px;" width="11" height="7" viewBox="0 0 11 7"><polyline points="0.8,0.8 5.5,5.6 10.2,0.8" fill="none" stroke="#222" stroke-width="1.5"/></svg>
<div style="position:absolute;left:63px;top:493px;width:16.5px;height:16.5px;box-sizing:border-box;border:1.8px solid #2b6cb0;background:#cfe4f7"></div>
<svg style="position:absolute;left:86px;top:497px;" width="19" height="13" viewBox="0 0 19 13"><defs><radialGradient id="sg12" cx="14.5" cy="12.6" r="13.2" gradientUnits="userSpaceOnUse" gradientTransform="translate(14.5 12.6) scale(1.3 1) translate(-14.5 -12.6)"><stop offset="0" stop-color="#6a6a6a"/><stop offset="0.12" stop-color="#8c8c8c"/><stop offset="0.25" stop-color="#d8d8d8"/><stop offset="0.36" stop-color="#a4a4a4"/><stop offset="0.48" stop-color="#e0e0e0"/><stop offset="0.6" stop-color="#b0b0b0"/><stop offset="0.75" stop-color="#c8c8c8"/><stop offset="0.9" stop-color="#9a9a9a"/><stop offset="1" stop-color="#7c7c7c"/></radialGradient></defs><path d="M-0.2 5.6 C3.5 2.6 6.5 0.8 8 0.1 C12 0.8 15.5 1.8 18.4 2.8 L14.6 12.2 C10 10.2 5 8 -0.2 5.6 Z" fill="url(#sg12)"/></svg>
<div style="position:absolute;left:111px;top:494.0px;line-height:19px;font-size:13px;color:#000;white-space:pre;letter-spacing:-0.208px;">Strains</div>
<svg style="position:absolute;left:70.5px;top:520.0px;" width="7" height="11" viewBox="0 0 7 11"><polyline points="0.8,0.8 5.6,5.5 0.8,10.2" fill="none" stroke="#8a8a8a" stroke-width="1.2"/></svg>
<div style="position:absolute;left:88px;top:516px;width:16.5px;height:16.5px;box-sizing:border-box;border:1.8px solid #2b6cb0;background:#cfe4f7"></div>
<svg style="position:absolute;left:111px;top:520px;" width="19" height="13" viewBox="0 0 19 13"><defs><radialGradient id="sg13" cx="14.5" cy="12.6" r="13.2" gradientUnits="userSpaceOnUse" gradientTransform="translate(14.5 12.6) scale(1.3 1) translate(-14.5 -12.6)"><stop offset="0" stop-color="#6a6a6a"/><stop offset="0.12" stop-color="#8c8c8c"/><stop offset="0.25" stop-color="#d8d8d8"/><stop offset="0.36" stop-color="#a4a4a4"/><stop offset="0.48" stop-color="#e0e0e0"/><stop offset="0.6" stop-color="#b0b0b0"/><stop offset="0.75" stop-color="#c8c8c8"/><stop offset="0.9" stop-color="#9a9a9a"/><stop offset="1" stop-color="#7c7c7c"/></radialGradient></defs><path d="M-0.2 5.6 C3.5 2.6 6.5 0.8 8 0.1 C12 0.8 15.5 1.8 18.4 2.8 L14.6 12.2 C10 10.2 5 8 -0.2 5.6 Z" fill="url(#sg13)"/></svg>
<div style="position:absolute;left:136px;top:517.0px;line-height:19px;font-size:13px;color:#000;white-space:pre;letter-spacing:-0.142px;">Basic Total Strains</div>
<svg style="position:absolute;left:70.5px;top:543.0px;" width="7" height="11" viewBox="0 0 7 11"><polyline points="0.8,0.8 5.6,5.5 0.8,10.2" fill="none" stroke="#8a8a8a" stroke-width="1.2"/></svg>
<div style="position:absolute;left:88px;top:539px;width:16.5px;height:16.5px;box-sizing:border-box;border:1.8px solid #2b6cb0;background:#cfe4f7"></div>
<svg style="position:absolute;left:111px;top:543px;" width="19" height="13" viewBox="0 0 19 13"><defs><radialGradient id="sg14" cx="14.5" cy="12.6" r="13.2" gradientUnits="userSpaceOnUse" gradientTransform="translate(14.5 12.6) scale(1.3 1) translate(-14.5 -12.6)"><stop offset="0" stop-color="#6a6a6a"/><stop offset="0.12" stop-color="#8c8c8c"/><stop offset="0.25" stop-color="#d8d8d8"/><stop offset="0.36" stop-color="#a4a4a4"/><stop offset="0.48" stop-color="#e0e0e0"/><stop offset="0.6" stop-color="#b0b0b0"/><stop offset="0.75" stop-color="#c8c8c8"/><stop offset="0.9" stop-color="#9a9a9a"/><stop offset="1" stop-color="#7c7c7c"/></radialGradient></defs><path d="M-0.2 5.6 C3.5 2.6 6.5 0.8 8 0.1 C12 0.8 15.5 1.8 18.4 2.8 L14.6 12.2 C10 10.2 5 8 -0.2 5.6 Z" fill="url(#sg14)"/></svg>
<div style="position:absolute;left:136px;top:540.0px;line-height:19px;font-size:13px;color:#000;white-space:pre;letter-spacing:-0.033px;">Principal Total Strains</div>
<svg style="position:absolute;left:70.5px;top:566.0px;" width="7" height="11" viewBox="0 0 7 11"><polyline points="0.8,0.8 5.6,5.5 0.8,10.2" fill="none" stroke="#8a8a8a" stroke-width="1.2"/></svg>
<div style="position:absolute;left:88px;top:562px;width:16.5px;height:16.5px;box-sizing:border-box;border:1.8px solid #2b6cb0;background:#cfe4f7"></div>
<svg style="position:absolute;left:111px;top:566px;" width="19" height="13" viewBox="0 0 19 13"><defs><radialGradient id="sg15" cx="14.5" cy="12.6" r="13.2" gradientUnits="userSpaceOnUse" gradientTransform="translate(14.5 12.6) scale(1.3 1) translate(-14.5 -12.6)"><stop offset="0" stop-color="#6a6a6a"/><stop offset="0.12" stop-color="#8c8c8c"/><stop offset="0.25" stop-color="#d8d8d8"/><stop offset="0.36" stop-color="#a4a4a4"/><stop offset="0.48" stop-color="#e0e0e0"/><stop offset="0.6" stop-color="#b0b0b0"/><stop offset="0.75" stop-color="#c8c8c8"/><stop offset="0.9" stop-color="#9a9a9a"/><stop offset="1" stop-color="#7c7c7c"/></radialGradient></defs><path d="M-0.2 5.6 C3.5 2.6 6.5 0.8 8 0.1 C12 0.8 15.5 1.8 18.4 2.8 L14.6 12.2 C10 10.2 5 8 -0.2 5.6 Z" fill="url(#sg15)"/></svg>
<div style="position:absolute;left:136px;top:563.0px;line-height:19px;font-size:13px;color:#000;white-space:pre;letter-spacing:0.036px;">Maximum Total Strains</div>
<svg style="position:absolute;left:70.5px;top:589.0px;" width="7" height="11" viewBox="0 0 7 11"><polyline points="0.8,0.8 5.6,5.5 0.8,10.2" fill="none" stroke="#8a8a8a" stroke-width="1.2"/></svg>
<div style="position:absolute;left:88px;top:585px;width:16.5px;height:16.5px;box-sizing:border-box;border:1.8px solid #2b6cb0;background:#cfe4f7"></div>
<svg style="position:absolute;left:111px;top:589px;" width="19" height="13" viewBox="0 0 19 13"><defs><radialGradient id="sg16" cx="14.5" cy="12.6" r="13.2" gradientUnits="userSpaceOnUse" gradientTransform="translate(14.5 12.6) scale(1.3 1) translate(-14.5 -12.6)"><stop offset="0" stop-color="#6a6a6a"/><stop offset="0.12" stop-color="#8c8c8c"/><stop offset="0.25" stop-color="#d8d8d8"/><stop offset="0.36" stop-color="#a4a4a4"/><stop offset="0.48" stop-color="#e0e0e0"/><stop offset="0.6" stop-color="#b0b0b0"/><stop offset="0.75" stop-color="#c8c8c8"/><stop offset="0.9" stop-color="#9a9a9a"/><stop offset="1" stop-color="#7c7c7c"/></radialGradient></defs><path d="M-0.2 5.6 C3.5 2.6 6.5 0.8 8 0.1 C12 0.8 15.5 1.8 18.4 2.8 L14.6 12.2 C10 10.2 5 8 -0.2 5.6 Z" fill="url(#sg16)"/></svg>
<div style="position:absolute;left:136px;top:586.0px;line-height:19px;font-size:13px;color:#000;white-space:pre;letter-spacing:-0.067px;">Equivalent Total Strains</div>
<div style="position:absolute;left:88px;top:608px;width:16.5px;height:16.5px;box-sizing:border-box;border:1.8px solid #2b6cb0;background:#cfe4f7"></div>
<svg style="position:absolute;left:111px;top:612px;" width="19" height="13" viewBox="0 0 19 13"><defs><radialGradient id="sg17" cx="14.5" cy="12.6" r="13.2" gradientUnits="userSpaceOnUse" gradientTransform="translate(14.5 12.6) scale(1.3 1) translate(-14.5 -12.6)"><stop offset="0" stop-color="#6a6a6a"/><stop offset="0.12" stop-color="#8c8c8c"/><stop offset="0.25" stop-color="#d8d8d8"/><stop offset="0.36" stop-color="#a4a4a4"/><stop offset="0.48" stop-color="#e0e0e0"/><stop offset="0.6" stop-color="#b0b0b0"/><stop offset="0.75" stop-color="#c8c8c8"/><stop offset="0.9" stop-color="#9a9a9a"/><stop offset="1" stop-color="#7c7c7c"/></radialGradient></defs><path d="M-0.2 5.6 C3.5 2.6 6.5 0.8 8 0.1 C12 0.8 15.5 1.8 18.4 2.8 L14.6 12.2 C10 10.2 5 8 -0.2 5.6 Z" fill="url(#sg17)"/></svg>
<div style="position:absolute;left:136px;top:609.0px;line-height:19px;font-size:13px;color:#000;white-space:pre;letter-spacing:-0.153px;">Principal Plastic Strains</div>
<div style="position:absolute;left:88px;top:631px;width:16.5px;height:16.5px;box-sizing:border-box;border:1.8px solid #2b6cb0;background:#cfe4f7"></div>
<svg style="position:absolute;left:111px;top:635px;" width="19" height="13" viewBox="0 0 19 13"><defs><radialGradient id="sg18" cx="14.5" cy="12.6" r="13.2" gradientUnits="userSpaceOnUse" gradientTransform="translate(14.5 12.6) scale(1.3 1) translate(-14.5 -12.6)"><stop offset="0" stop-color="#6a6a6a"/><stop offset="0.12" stop-color="#8c8c8c"/><stop offset="0.25" stop-color="#d8d8d8"/><stop offset="0.36" stop-color="#a4a4a4"/><stop offset="0.48" stop-color="#e0e0e0"/><stop offset="0.6" stop-color="#b0b0b0"/><stop offset="0.75" stop-color="#c8c8c8"/><stop offset="0.9" stop-color="#9a9a9a"/><stop offset="1" stop-color="#7c7c7c"/></radialGradient></defs><path d="M-0.2 5.6 C3.5 2.6 6.5 0.8 8 0.1 C12 0.8 15.5 1.8 18.4 2.8 L14.6 12.2 C10 10.2 5 8 -0.2 5.6 Z" fill="url(#sg18)"/></svg>
<div style="position:absolute;left:136px;top:632.0px;line-height:19px;font-size:13px;color:#000;white-space:pre;letter-spacing:-0.100px;">Maximum Plastic Strains</div>
<svg style="position:absolute;left:67.5px;top:660.0px;" width="11" height="7" viewBox="0 0 11 7"><polyline points="0.8,0.8 5.5,5.6 10.2,0.8" fill="none" stroke="#222" stroke-width="1.5"/></svg>
<div style="position:absolute;left:88px;top:654px;width:16.5px;height:16.5px;box-sizing:border-box;border:1.8px solid #2b6cb0;background:#cfe4f7"></div>
<svg style="position:absolute;left:111px;top:658px;" width="19" height="13" viewBox="0 0 19 13"><defs><radialGradient id="sg19" cx="14.5" cy="12.6" r="13.2" gradientUnits="userSpaceOnUse" gradientTransform="translate(14.5 12.6) scale(1.3 1) translate(-14.5 -12.6)"><stop offset="0" stop-color="#6a6a6a"/><stop offset="0.12" stop-color="#8c8c8c"/><stop offset="0.25" stop-color="#d8d8d8"/><stop offset="0.36" stop-color="#a4a4a4"/><stop offset="0.48" stop-color="#e0e0e0"/><stop offset="0.6" stop-color="#b0b0b0"/><stop offset="0.75" stop-color="#c8c8c8"/><stop offset="0.9" stop-color="#9a9a9a"/><stop offset="1" stop-color="#7c7c7c"/></radialGradient></defs><path d="M-0.2 5.6 C3.5 2.6 6.5 0.8 8 0.1 C12 0.8 15.5 1.8 18.4 2.8 L14.6 12.2 C10 10.2 5 8 -0.2 5.6 Z" fill="url(#sg19)"/></svg>
<div style="position:absolute;left:136px;top:655.0px;line-height:19px;font-size:13px;color:#000;white-space:pre;letter-spacing:-0.180px;">Equivalent Plastic Strains</div>
<div style="position:absolute;left:113px;top:677px;width:16.5px;height:16.5px;box-sizing:border-box;border:1.8px solid #2b6cb0;background:#cfe4f7"></div>
<svg style="position:absolute;left:136px;top:681px;" width="19" height="13" viewBox="0 0 19 13"><defs><radialGradient id="sg20" cx="14.5" cy="12.6" r="13.2" gradientUnits="userSpaceOnUse" gradientTransform="translate(14.5 12.6) scale(1.3 1) translate(-14.5 -12.6)"><stop offset="0" stop-color="#6a6a6a"/><stop offset="0.12" stop-color="#8c8c8c"/><stop offset="0.25" stop-color="#d8d8d8"/><stop offset="0.36" stop-color="#a4a4a4"/><stop offset="0.48" stop-color="#e0e0e0"/><stop offset="0.6" stop-color="#b0b0b0"/><stop offset="0.75" stop-color="#c8c8c8"/><stop offset="0.9" stop-color="#9a9a9a"/><stop offset="1" stop-color="#7c7c7c"/></radialGradient></defs><path d="M-0.2 5.6 C3.5 2.6 6.5 0.8 8 0.1 C12 0.8 15.5 1.8 18.4 2.8 L14.6 12.2 C10 10.2 5 8 -0.2 5.6 Z" fill="url(#sg20)"/></svg>
<div style="position:absolute;left:161px;top:678.0px;line-height:19px;font-size:13px;color:#000;white-space:pre;">ε<span style="font-size:12px;position:relative;top:1px;letter-spacing:-0.1px">eqv,pl,Mises</span></div>
<div style="position:absolute;left:113px;top:700px;width:16.5px;height:16.5px;box-sizing:border-box;border:1.8px solid #2b6cb0;background:#cfe4f7"></div>
<svg style="position:absolute;left:136px;top:704px;" width="19" height="13" viewBox="0 0 19 13"><defs><radialGradient id="sg21" cx="14.5" cy="12.6" r="13.2" gradientUnits="userSpaceOnUse" gradientTransform="translate(14.5 12.6) scale(1.3 1) translate(-14.5 -12.6)"><stop offset="0" stop-color="#6a6a6a"/><stop offset="0.12" stop-color="#8c8c8c"/><stop offset="0.25" stop-color="#d8d8d8"/><stop offset="0.36" stop-color="#a4a4a4"/><stop offset="0.48" stop-color="#e0e0e0"/><stop offset="0.6" stop-color="#b0b0b0"/><stop offset="0.75" stop-color="#c8c8c8"/><stop offset="0.9" stop-color="#9a9a9a"/><stop offset="1" stop-color="#7c7c7c"/></radialGradient></defs><path d="M-0.2 5.6 C3.5 2.6 6.5 0.8 8 0.1 C12 0.8 15.5 1.8 18.4 2.8 L14.6 12.2 C10 10.2 5 8 -0.2 5.6 Z" fill="url(#sg21)"/></svg>
<div style="position:absolute;left:161px;top:701.0px;line-height:19px;font-size:13px;color:#000;white-space:pre;">ε<span style="font-size:12px;position:relative;top:1px;letter-spacing:-0.1px">eqv,pl,Tresca</span></div>
<div style="position:absolute;left:113px;top:723px;width:16.5px;height:16.5px;box-sizing:border-box;border:1.8px solid #2b6cb0;background:#cfe4f7"></div>
<svg style="position:absolute;left:136px;top:727px;" width="19" height="13" viewBox="0 0 19 13"><defs><radialGradient id="sg22" cx="14.5" cy="12.6" r="13.2" gradientUnits="userSpaceOnUse" gradientTransform="translate(14.5 12.6) scale(1.3 1) translate(-14.5 -12.6)"><stop offset="0" stop-color="#6a6a6a"/><stop offset="0.12" stop-color="#8c8c8c"/><stop offset="0.25" stop-color="#d8d8d8"/><stop offset="0.36" stop-color="#a4a4a4"/><stop offset="0.48" stop-color="#e0e0e0"/><stop offset="0.6" stop-color="#b0b0b0"/><stop offset="0.75" stop-color="#c8c8c8"/><stop offset="0.9" stop-color="#9a9a9a"/><stop offset="1" stop-color="#7c7c7c"/></radialGradient></defs><path d="M-0.2 5.6 C3.5 2.6 6.5 0.8 8 0.1 C12 0.8 15.5 1.8 18.4 2.8 L14.6 12.2 C10 10.2 5 8 -0.2 5.6 Z" fill="url(#sg22)"/></svg>
<div style="position:absolute;left:161px;top:724.0px;line-height:19px;font-size:13px;color:#000;white-space:pre;">ε<span style="font-size:12px;position:relative;top:1px;letter-spacing:-0.1px">eqv,pl,Rankine</span></div>
<div style="position:absolute;left:113px;top:746px;width:16.5px;height:16.5px;box-sizing:border-box;border:1.8px solid #2b6cb0;background:#cfe4f7"></div>
<svg style="position:absolute;left:136px;top:750px;" width="19" height="13" viewBox="0 0 19 13"><defs><radialGradient id="sg23" cx="14.5" cy="12.6" r="13.2" gradientUnits="userSpaceOnUse" gradientTransform="translate(14.5 12.6) scale(1.3 1) translate(-14.5 -12.6)"><stop offset="0" stop-color="#6a6a6a"/><stop offset="0.12" stop-color="#8c8c8c"/><stop offset="0.25" stop-color="#d8d8d8"/><stop offset="0.36" stop-color="#a4a4a4"/><stop offset="0.48" stop-color="#e0e0e0"/><stop offset="0.6" stop-color="#b0b0b0"/><stop offset="0.75" stop-color="#c8c8c8"/><stop offset="0.9" stop-color="#9a9a9a"/><stop offset="1" stop-color="#7c7c7c"/></radialGradient></defs><path d="M-0.2 5.6 C3.5 2.6 6.5 0.8 8 0.1 C12 0.8 15.5 1.8 18.4 2.8 L14.6 12.2 C10 10.2 5 8 -0.2 5.6 Z" fill="url(#sg23)"/></svg>
<div style="position:absolute;left:161px;top:747.0px;line-height:19px;font-size:13px;color:#000;white-space:pre;">ε<span style="font-size:12px;position:relative;top:1px;letter-spacing:-0.1px">eqv,pl,Bach</span></div>
<svg style="position:absolute;left:45.5px;top:773.0px;" width="7" height="11" viewBox="0 0 7 11"><polyline points="0.8,0.8 5.6,5.5 0.8,10.2" fill="none" stroke="#8a8a8a" stroke-width="1.2"/></svg>
<div style="position:absolute;left:63px;top:769px;width:16.5px;height:16.5px;box-sizing:border-box;border:1.8px solid #2b6cb0;background:#cfe4f7"></div>
<svg style="position:absolute;left:86px;top:773px;" width="19" height="13" viewBox="0 0 19 13"><defs><radialGradient id="sg24" cx="14.5" cy="12.6" r="13.2" gradientUnits="userSpaceOnUse" gradientTransform="translate(14.5 12.6) scale(1.3 1) translate(-14.5 -12.6)"><stop offset="0" stop-color="#6a6a6a"/><stop offset="0.12" stop-color="#8c8c8c"/><stop offset="0.25" stop-color="#d8d8d8"/><stop offset="0.36" stop-color="#a4a4a4"/><stop offset="0.48" stop-color="#e0e0e0"/><stop offset="0.6" stop-color="#b0b0b0"/><stop offset="0.75" stop-color="#c8c8c8"/><stop offset="0.9" stop-color="#9a9a9a"/><stop offset="1" stop-color="#7c7c7c"/></radialGradient></defs><path d="M-0.2 5.6 C3.5 2.6 6.5 0.8 8 0.1 C12 0.8 15.5 1.8 18.4 2.8 L14.6 12.2 C10 10.2 5 8 -0.2 5.6 Z" fill="url(#sg24)"/></svg>
<div style="position:absolute;left:111px;top:770.0px;line-height:19px;font-size:13px;color:#000;white-space:pre;letter-spacing:-0.318px;">Shape</div>
<svg style="position:absolute;left:17.5px;top:798.0px;" width="11" height="7" viewBox="0 0 11 7"><polyline points="0.8,0.8 5.5,5.6 10.2,0.8" fill="none" stroke="#222" stroke-width="1.5"/></svg>
<div style="position:absolute;left:38px;top:792px;width:16.5px;height:16.5px;box-sizing:border-box;border:1.8px solid #2b6cb0;background:#cfe4f7"></div>
<div style="position:absolute;left:60px;top:793.0px;line-height:19px;font-size:13px;color:#000;white-space:pre;letter-spacing:0.166px;">Distribution of Loads</div>
<svg style="position:absolute;left:42.5px;top:821.0px;" width="11" height="7" viewBox="0 0 11 7"><polyline points="0.8,0.8 5.5,5.6 10.2,0.8" fill="none" stroke="#222" stroke-width="1.5"/></svg>
<div style="position:absolute;left:63px;top:815px;width:16.5px;height:16.5px;box-sizing:border-box;border:1.8px solid #2b6cb0;background:#cfe4f7"></div>
<svg style="position:absolute;left:85px;top:817px;" width="21" height="15" viewBox="0 0 21 15"><path d="M4.5 13 V1.4 H15.5 V13" fill="none" stroke="#757575" stroke-width="1.3"/><path d="M5 2.8 Q10 5.6 15 2.8" fill="none" stroke="#a8a8a8" stroke-width="0.9"/><path d="M4 1 Q-0.8 7 4 13.6 M16 1 Q20.8 7 16 13.6" fill="none" stroke="#a8a8a8" stroke-width="0.9"/><rect x="3.5" y="0.19999999999999996" width="2" height="2" fill="#8a8a8a"/><rect x="14.5" y="0.19999999999999996" width="2" height="2" fill="#8a8a8a"/><rect x="3.5" y="12" width="2" height="2" fill="#8a8a8a"/><rect x="14.5" y="12" width="2" height="2" fill="#8a8a8a"/></svg>
<div style="position:absolute;left:111px;top:816.0px;line-height:19px;font-size:13px;color:#000;white-space:pre;letter-spacing:-0.411px;">2D Surface FEs</div>
<svg style="position:absolute;left:67.5px;top:844.0px;" width="11" height="7" viewBox="0 0 11 7"><polyline points="0.8,0.8 5.5,5.6 10.2,0.8" fill="none" stroke="#222" stroke-width="1.5"/></svg>
<div style="position:absolute;left:88px;top:838px;width:16.5px;height:16.5px;box-sizing:border-box;border:1.8px solid #2b6cb0;background:#cfe4f7"></div>
<svg style="position:absolute;left:110px;top:840px;" width="21" height="15" viewBox="0 0 21 15"><path d="M4.5 13 V1.4 H15.5 V13" fill="none" stroke="#757575" stroke-width="1.3"/><path d="M5 2.8 Q10 5.6 15 2.8" fill="none" stroke="#a8a8a8" stroke-width="0.9"/><path d="M4 1 Q-0.8 7 4 13.6 M16 1 Q20.8 7 16 13.6" fill="none" stroke="#a8a8a8" stroke-width="0.9"/><rect x="3.5" y="0.19999999999999996" width="2" height="2" fill="#8a8a8a"/><rect x="14.5" y="0.19999999999999996" width="2" height="2" fill="#8a8a8a"/><rect x="3.5" y="12" width="2" height="2" fill="#8a8a8a"/><rect x="14.5" y="12" width="2" height="2" fill="#8a8a8a"/></svg>
<div style="position:absolute;left:136px;top:839.0px;line-height:19px;font-size:13px;color:#000;white-space:pre;letter-spacing:0.071px;">Global</div>
<div style="position:absolute;left:113px;top:861px;width:16.5px;height:16.5px;box-sizing:border-box;border:1.5px solid #4d4d4d;border-radius:1px;background:#fff"></div>
<svg style="position:absolute;left:135px;top:863px;" width="21" height="15" viewBox="0 0 21 15"><path d="M4.5 13 V1.4 H15.5 V13" fill="none" stroke="#151515" stroke-width="1.5"/><path d="M5 2.8 Q10 5.6 15 2.8" fill="none" stroke="#6a6a6a" stroke-width="0.9"/><path d="M4 1 Q-0.8 7 4 13.6 M16 1 Q20.8 7 16 13.6" fill="none" stroke="#6a6a6a" stroke-width="0.9"/><circle cx="4.5" cy="1.6" r="1.35" fill="#d81818"/><circle cx="15.5" cy="1.6" r="1.35" fill="#d81818"/><circle cx="4.5" cy="13" r="1.35" fill="#d81818"/><circle cx="15.5" cy="13" r="1.35" fill="#d81818"/></svg>
<div style="position:absolute;left:161px;top:862.0px;line-height:19px;font-size:13px;color:#000;white-space:pre;">p<span style="font-size:11px;position:relative;top:0.5px;letter-spacing:-0.1px">X</span></div>
<div style="position:absolute;left:113px;top:884px;width:16.5px;height:16.5px;box-sizing:border-box;border:1.5px solid #4d4d4d;border-radius:1px;background:#fff"></div>
<svg style="position:absolute;left:135px;top:886px;" width="21" height="15" viewBox="0 0 21 15"><path d="M4.5 13 V1.4 H15.5 V13" fill="none" stroke="#151515" stroke-width="1.5"/><path d="M5 2.8 Q10 5.6 15 2.8" fill="none" stroke="#6a6a6a" stroke-width="0.9"/><path d="M4 1 Q-0.8 7 4 13.6 M16 1 Q20.8 7 16 13.6" fill="none" stroke="#6a6a6a" stroke-width="0.9"/><circle cx="4.5" cy="1.6" r="1.35" fill="#d81818"/><circle cx="15.5" cy="1.6" r="1.35" fill="#d81818"/><circle cx="4.5" cy="13" r="1.35" fill="#d81818"/><circle cx="15.5" cy="13" r="1.35" fill="#d81818"/></svg>
<div style="position:absolute;left:161px;top:885.0px;line-height:19px;font-size:13px;color:#000;white-space:pre;">p<span style="font-size:11px;position:relative;top:0.5px;letter-spacing:-0.1px">Y</span></div>
<div style="position:absolute;left:132px;top:905px;width:224px;height:23px;background:#cce8ff;"></div>
<div style="position:absolute;left:113px;top:907px;width:16.5px;height:16.5px;box-sizing:border-box;border:1.5px solid #4d4d4d;border-radius:1px;background:#fff"></div>
<svg style="position:absolute;left:135px;top:909px;" width="21" height="15" viewBox="0 0 21 15"><path d="M4.5 13 V1.4 H15.5 V13" fill="none" stroke="#151515" stroke-width="1.5"/><path d="M5 2.8 Q10 5.6 15 2.8" fill="none" stroke="#6a6a6a" stroke-width="0.9"/><path d="M4 1 Q-0.8 7 4 13.6 M16 1 Q20.8 7 16 13.6" fill="none" stroke="#6a6a6a" stroke-width="0.9"/><circle cx="4.5" cy="1.6" r="1.35" fill="#d81818"/><circle cx="15.5" cy="1.6" r="1.35" fill="#d81818"/><circle cx="4.5" cy="13" r="1.35" fill="#d81818"/><circle cx="15.5" cy="13" r="1.35" fill="#d81818"/></svg>
<div style="position:absolute;left:161px;top:908.0px;line-height:19px;font-size:13px;color:#000;white-space:pre;">p<span style="font-size:11px;position:relative;top:0.5px;letter-spacing:-0.1px">Z</span></div>
<svg style="position:absolute;left:67.5px;top:936.0px;" width="11" height="7" viewBox="0 0 11 7"><polyline points="0.8,0.8 5.5,5.6 10.2,0.8" fill="none" stroke="#222" stroke-width="1.5"/></svg>
<div style="position:absolute;left:88px;top:930px;width:16.5px;height:16.5px;box-sizing:border-box;border:1.8px solid #2b6cb0;background:#cfe4f7"></div>
<svg style="position:absolute;left:110px;top:932px;" width="21" height="15" viewBox="0 0 21 15"><path d="M4.5 13 V1.4 H15.5 V13" fill="none" stroke="#757575" stroke-width="1.3"/><path d="M5 2.8 Q10 5.6 15 2.8" fill="none" stroke="#a8a8a8" stroke-width="0.9"/><path d="M4 1 Q-0.8 7 4 13.6 M16 1 Q20.8 7 16 13.6" fill="none" stroke="#a8a8a8" stroke-width="0.9"/><rect x="3.5" y="0.19999999999999996" width="2" height="2" fill="#8a8a8a"/><rect x="14.5" y="0.19999999999999996" width="2" height="2" fill="#8a8a8a"/><rect x="3.5" y="12" width="2" height="2" fill="#8a8a8a"/><rect x="14.5" y="12" width="2" height="2" fill="#8a8a8a"/></svg>
<div style="position:absolute;left:136px;top:931.0px;line-height:19px;font-size:13px;color:#000;white-space:pre;letter-spacing:-0.215px;">Local</div>
<div style="position:absolute;left:113px;top:953px;width:16.5px;height:16.5px;box-sizing:border-box;border:1.5px solid #4d4d4d;border-radius:1px;background:#fff"></div>
<svg style="position:absolute;left:135px;top:955px;" width="21" height="15" viewBox="0 0 21 15"><path d="M4.5 13 V1.4 H15.5 V13" fill="none" stroke="#151515" stroke-width="1.5"/><path d="M5 2.8 Q10 5.6 15 2.8" fill="none" stroke="#6a6a6a" stroke-width="0.9"/><path d="M4 1 Q-0.8 7 4 13.6 M16 1 Q20.8 7 16 13.6" fill="none" stroke="#6a6a6a" stroke-width="0.9"/><circle cx="4.5" cy="1.6" r="1.35" fill="#d81818"/><circle cx="15.5" cy="1.6" r="1.35" fill="#d81818"/><circle cx="4.5" cy="13" r="1.35" fill="#d81818"/><circle cx="15.5" cy="13" r="1.35" fill="#d81818"/></svg>
<div style="position:absolute;left:161px;top:954.0px;line-height:19px;font-size:13px;color:#000;white-space:pre;">p<span style="font-size:11px;position:relative;top:0.5px;letter-spacing:-0.1px">x</span></div>
</div></div>
<div style="position:absolute;left:357px;top:238px;width:20px;height:724px;background:#f0f0f0;"></div>
<div style="position:absolute;left:357px;top:561px;width:20px;height:346px;background:#c9c9c9;"></div>
<svg style="position:absolute;left:362px;top:245px;" width="11" height="7" viewBox="0 0 11 7"><polyline points="0.8,5.8 5.3,1.3 9.8,5.8" fill="none" stroke="#3c3c3c" stroke-width="1.9"/></svg>
<svg style="position:absolute;left:362px;top:948px;" width="11" height="7" viewBox="0 0 11 7"><polyline points="0.8,1.2 5.3,5.7 9.8,1.2" fill="none" stroke="#3c3c3c" stroke-width="1.9"/></svg>
<div style="position:absolute;left:276px;top:967px;width:29px;height:24px;background:#cce4f7;"></div>
<div style="position:absolute;left:309px;top:967px;width:29px;height:24px;background:#cce4f7;"></div>
<div style="position:absolute;left:342px;top:967px;width:29px;height:24px;background:#cce4f7;"></div>
<svg style="position:absolute;left:279px;top:969px;" width="24" height="20" viewBox="0 0 24 20"><rect x="1.5" y="1.5" width="7" height="7" rx="1.4" fill="#c6d3e2" stroke="#8c98a6" stroke-width="1"/><polyline points="2.2,4.6 4.4,7.4 7.6,1.4" fill="none" stroke="#111" stroke-width="1.5"/><rect x="1.5" y="11.5" width="7" height="7" rx="1.4" fill="#c6d3e2" stroke="#8c98a6" stroke-width="1"/><polyline points="2.2,14.6 4.4,17.4 7.6,11.4" fill="none" stroke="#111" stroke-width="1.5"/><path d="M10.5 10.5 Q12.5 12 14.3 15.5 Q16.5 9 20.8 5" stroke="#14a83c" stroke-width="2.3" fill="none"/></svg>
<svg style="position:absolute;left:312px;top:969px;" width="24" height="20" viewBox="0 0 24 20"><rect x="1.5" y="1.5" width="7" height="7" rx="1.4" fill="#c6d3e2" stroke="#8c98a6" stroke-width="1"/><rect x="1.5" y="11.5" width="7" height="7" rx="1.4" fill="#c6d3e2" stroke="#8c98a6" stroke-width="1"/><path d="M11 5 L20.5 15.5 M20.5 5 L11 15.5" stroke="#e8281c" stroke-width="2.9" fill="none"/></svg>
<svg style="position:absolute;left:345px;top:969px;" width="24" height="20" viewBox="0 0 24 20"><rect x="1.5" y="1.5" width="7" height="7" rx="1.4" fill="#c6d3e2" stroke="#8c98a6" stroke-width="1"/><polyline points="2.2,4.6 4.4,7.4 7.6,1.4" fill="none" stroke="#111" stroke-width="1.5"/><rect x="1.5" y="11.5" width="7" height="7" rx="1.4" fill="#c6d3e2" stroke="#8c98a6" stroke-width="1"/><path d="M12.5 8 C15 5.6 18.5 5.8 20.5 7.6" stroke="#20a83c" stroke-width="1.5" fill="none"/><polygon points="10.2,8.8 14.6,5.4 14,9.6" fill="#109030"/>
       <path d="M11 11.6 C13.5 14 17 13.8 19.4 12" stroke="#20a83c" stroke-width="1.5" fill="none"/><polygon points="21.6,10.4 17.4,10.6 19.8,14.2" fill="#109030"/></svg>
<div style="position:absolute;left:387px;top:106px;width:1521px;height:63px;background:#f0f0f0;"></div>
<div style="position:absolute;left:387px;top:169px;width:1501px;height:827px;background:#ffffff;"></div>
<div style="position:absolute;left:387px;top:418px;width:1501px;height:25px;background:#dcdcdc;"></div>
<div style="position:absolute;left:391px;top:422.0px;line-height:19px;font-size:13px;color:#000;white-space:pre;"><span style="letter-spacing:-0.13px">Basic Internal Forces | </span>n<span style="font-size:11.5px;position:relative;top:2px">y</span> [kN/m]</div>
<div style="position:absolute;left:387px;top:707px;width:1501px;height:25px;background:#dcdcdc;"></div>
<div style="position:absolute;left:391px;top:711.0px;line-height:19px;font-size:13px;color:#000;white-space:pre;"><span style="letter-spacing:-0.13px">Basic Internal Forces | </span>n<span style="font-size:11.5px;position:relative;top:2px">xy</span> [kN/m]</div>
<div style="position:absolute;left:1888px;top:169px;width:20px;height:827px;background:#f0f0f0;"></div>
<div style="position:absolute;left:1888px;top:227px;width:19px;height:748px;background:#c9c9c9;"></div>
<svg style="position:absolute;left:1892px;top:176px;" width="12" height="8" viewBox="0 0 12 8"><polyline points="1.4,6.2 6,1.6 10.6,6.2" fill="none" stroke="#3c3c3c" stroke-width="1.9"/></svg>
<svg style="position:absolute;left:1892px;top:981px;" width="12" height="8" viewBox="0 0 12 8"><polyline points="1.4,1.6 6,6.2 10.6,1.6" fill="none" stroke="#3c3c3c" stroke-width="1.9"/></svg>
<svg style="position:absolute;left:0;top:0" width="1920" height="1030" viewBox="0 0 1920 1030"><rect x="443" y="144" width="1121" height="1" fill="#000"/><rect x="443" y="131" width="1" height="26" fill="#000"/><rect x="471" y="139" width="1" height="5" fill="#000"/><rect x="499" y="139" width="1" height="5" fill="#000"/><rect x="527" y="139" width="1" height="5" fill="#000"/><rect x="555" y="139" width="1" height="5" fill="#000"/><rect x="583" y="135" width="1" height="9" fill="#000"/><rect x="611" y="139" width="1" height="5" fill="#000"/><rect x="639" y="139" width="1" height="5" fill="#000"/><rect x="667" y="139" width="1" height="5" fill="#000"/><rect x="695" y="139" width="1" height="5" fill="#000"/><rect x="723" y="131" width="1" height="13" fill="#000"/><rect x="751" y="139" width="1" height="5" fill="#000"/><rect x="779" y="139" width="1" height="5" fill="#000"/><rect x="807" y="139" width="1" height="5" fill="#000"/><rect x="835" y="139" width="1" height="5" fill="#000"/><rect x="863" y="135" width="1" height="9" fill="#000"/><rect x="891" y="139" width="1" height="5" fill="#000"/><rect x="919" y="139" width="1" height="5" fill="#000"/><rect x="947" y="139" width="1" height="5" fill="#000"/><rect x="975" y="139" width="1" height="5" fill="#000"/><rect x="1003" y="131" width="1" height="13" fill="#000"/><rect x="1031" y="139" width="1" height="5" fill="#000"/><rect x="1059" y="139" width="1" height="5" fill="#000"/><rect x="1087" y="139" width="1" height="5" fill="#000"/><rect x="1115" y="139" width="1" height="5" fill="#000"/><rect x="1143" y="135" width="1" height="9" fill="#000"/><rect x="1171" y="139" width="1" height="5" fill="#000"/><rect x="1199" y="139" width="1" height="5" fill="#000"/><rect x="1227" y="139" width="1" height="5" fill="#000"/><rect x="1255" y="139" width="1" height="5" fill="#000"/><rect x="1283" y="131" width="1" height="13" fill="#000"/><rect x="1311" y="139" width="1" height="5" fill="#000"/><rect x="1339" y="139" width="1" height="5" fill="#000"/><rect x="1367" y="139" width="1" height="5" fill="#000"/><rect x="1395" y="139" width="1" height="5" fill="#000"/><rect x="1423" y="135" width="1" height="9" fill="#000"/><rect x="1451" y="139" width="1" height="5" fill="#000"/><rect x="1479" y="139" width="1" height="5" fill="#000"/><rect x="1507" y="139" width="1" height="5" fill="#000"/><rect x="1535" y="139" width="1" height="5" fill="#000"/><rect x="1563" y="131" width="1" height="26" fill="#000"/><rect x="873" y="106" width="1" height="63" fill="#000"/></svg>
<div style="position:absolute;left:429.3px;top:108.5px;line-height:18px;font-size:12px;color:#000;white-space:pre;letter-spacing:-0.566px;">0.000</div>
<div style="position:absolute;left:709.3px;top:108.5px;line-height:18px;font-size:12px;color:#000;white-space:pre;letter-spacing:-0.566px;">0.500</div>
<div style="position:absolute;left:989.3px;top:108.5px;line-height:18px;font-size:12px;color:#000;white-space:pre;letter-spacing:-0.566px;">1.000</div>
<div style="position:absolute;left:1269.3px;top:108.5px;line-height:18px;font-size:12px;color:#000;white-space:pre;letter-spacing:-0.566px;">1.500</div>
<div style="position:absolute;left:1542px;top:108.5px;line-height:18px;font-size:12px;color:#000;white-space:pre;letter-spacing:-0.266px;">2.000 m</div>
<div style="position:absolute;left:803.5px;width:400px;text-align:center;top:148.0px;line-height:18px;font-size:12px;color:#000;white-space:pre;letter-spacing:-0.45px;">»R13/S13»</div>
<div style="position:absolute;left:1650px;top:129.0px;line-height:19px;font-size:13px;color:#000;white-space:pre;">x :</div>
<div style="position:absolute;left:1669px;top:126px;width:113px;height:23px;background:#e7e7f2;"></div>
<div style="position:absolute;right:161px;top:128.5px;line-height:19px;font-size:13px;color:#000;white-space:pre;letter-spacing:-0.3px;">0.770</div>
<svg style="position:absolute;left:1767.0px;top:135.0px;" width="11" height="7" viewBox="0 0 11 7"><polyline points="1,1 5.5,6 10,1" fill="none" stroke="#555" stroke-width="1.2"/></svg>
<div style="position:absolute;left:1783px;top:126px;width:19px;height:23px;background:#e7e7f2;"></div>
<svg style="position:absolute;left:1788px;top:132.5px;" width="8" height="10" viewBox="0 0 8 10"><polygon points="6,0.5 6,9.5 0.8,5" fill="#000"/></svg>
<div style="position:absolute;left:1803px;top:126px;width:19px;height:23px;background:#e7e7f2;"></div>
<svg style="position:absolute;left:1809px;top:132.5px;" width="8" height="10" viewBox="0 0 8 10"><polygon points="2,0.5 2,9.5 7.2,5" fill="#000"/></svg>
<div style="position:absolute;left:1828px;top:129.0px;line-height:19px;font-size:13px;color:#000;white-space:pre;">[m]</div>
<div style="position:absolute;left:1858px;top:124px;width:31px;height:27px;background:#cce4f7;box-sizing:border-box;border:1px solid #1f5fa8;"></div>
<svg style="position:absolute;left:1865px;top:127px;" width="17" height="21" viewBox="0 0 17 21"><path d="M4.5 9 V6 A4 4 0 0 1 12.5 6 V9" fill="none" stroke="#5c5c5c" stroke-width="2.2"/><rect x="1" y="9" width="15" height="11" rx="1.5" fill="#5c5c5c"/><circle cx="8.5" cy="13.5" r="1.6" fill="#e8e8e8"/><rect x="7.8" y="14" width="1.4" height="3.6" fill="#e8e8e8"/></svg>
<svg style="position:absolute;left:0;top:0;font-family:'Liberation Sans'" width="1920" height="1030" viewBox="0 0 1920 1030"><rect x="443.5" y="217.0" width="140.0" height="1.0" fill="#cff1f8"/>
<rect x="583.5" y="218.0" width="140.0" height="75.0" fill="#fde6c9"/>
<rect x="723.5" y="218.0" width="140.0" height="93.0" fill="#fde6c9"/>
<rect x="863.5" y="218.0" width="140.0" height="102.4" fill="#fde6c9"/>
<rect x="1003.5" y="218.0" width="140.0" height="108.5" fill="#fde6c9"/>
<rect x="1143.5" y="218.0" width="140.0" height="115.5" fill="#fde6c9"/>
<rect x="1283.5" y="218.0" width="140.0" height="137.1" fill="#fde6c9"/>
<rect x="1423.5" y="218.0" width="140.0" height="67.7" fill="#fde6c9"/>
<path d="M443.0 218 L443.0 217.0 L583.5 217.0 L583.5 293.0 L723.5 293.0 L723.5 311.0 L863.5 311.0 L863.5 320.4 L1003.5 320.4 L1003.5 326.5 L1143.5 326.5 L1143.5 333.5 L1283.5 333.5 L1283.5 355.1 L1423.5 355.1 L1423.5 285.7 L1563.2 285.7 L1563.2 218" fill="none" stroke="#7d7d7d" stroke-width="1.5" stroke-linejoin="miter"/>
<path d="M723.5 218 L723.5 293.0" stroke="#6a6a6a" stroke-width="1"/>
<path d="M863.5 218 L863.5 311.0" stroke="#6a6a6a" stroke-width="1"/>
<path d="M1003.5 218 L1003.5 320.4" stroke="#6a6a6a" stroke-width="1"/>
<path d="M1143.5 218 L1143.5 326.5" stroke="#6a6a6a" stroke-width="1"/>
<path d="M1283.5 218 L1283.5 333.5" stroke="#6a6a6a" stroke-width="1"/>
<path d="M1423.5 218 L1423.5 285.7" stroke="#6a6a6a" stroke-width="1"/>
<path d="M667.5 218 L667.5 293.0" stroke="#2f8d7d" stroke-width="1" stroke-dasharray="4 2"/>
<path d="M779.5 218 L779.5 311.0" stroke="#2f8d7d" stroke-width="1" stroke-dasharray="4 2"/>
<path d="M891.5 218 L891.5 320.4" stroke="#2f8d7d" stroke-width="1" stroke-dasharray="4 2"/>
<path d="M1003.5 218 L1003.5 320.4" stroke="#2f8d7d" stroke-width="1" stroke-dasharray="4 2"/>
<path d="M1115.5 218 L1115.5 326.5" stroke="#2f8d7d" stroke-width="1" stroke-dasharray="4 2"/>
<path d="M1227.5 218 L1227.5 333.5" stroke="#2f8d7d" stroke-width="1" stroke-dasharray="4 2"/>
<path d="M1339.5 218 L1339.5 355.1" stroke="#2f8d7d" stroke-width="1" stroke-dasharray="4 2"/>
<path d="M1451.5 218 L1451.5 285.7" stroke="#2f8d7d" stroke-width="1" stroke-dasharray="4 2"/>
<rect x="443.0" y="217" width="1121.0" height="2" fill="#00008f"/>
<rect x="553" y="215" width="4" height="4" fill="#8e8e8e"/>
<text transform="translate(558.6,210.5415) rotate(-90)" font-size="10" fill="#909090" text-anchor="start" textLength="26.6" lengthAdjust="spacingAndGlyphs">-0.015</text>
<rect x="665" y="291" width="4" height="4" fill="#8e8e8e"/>
<text transform="translate(670.6,298.4547) rotate(-90)" font-size="10" fill="#909090" text-anchor="end" textLength="21.5" lengthAdjust="spacingAndGlyphs">1.173</text>
<rect x="777" y="309" width="4" height="4" fill="#8e8e8e"/>
<text transform="translate(782.6,316.5384) rotate(-90)" font-size="10" fill="#909090" text-anchor="end" textLength="21.5" lengthAdjust="spacingAndGlyphs">1.456</text>
<rect x="889" y="318" width="4" height="4" fill="#8e8e8e"/>
<text transform="translate(894.6,325.9317) rotate(-90)" font-size="10" fill="#909090" text-anchor="end" textLength="21.5" lengthAdjust="spacingAndGlyphs">1.603</text>
<rect x="1113" y="325" width="4" height="4" fill="#8e8e8e"/>
<text transform="translate(1118.6,332.0022) rotate(-90)" font-size="10" fill="#909090" text-anchor="end" textLength="21.5" lengthAdjust="spacingAndGlyphs">1.698</text>
<rect x="1225" y="331" width="4" height="4" fill="#8e8e8e"/>
<text transform="translate(1230.6,338.9673) rotate(-90)" font-size="10" fill="#909090" text-anchor="end" textLength="21.5" lengthAdjust="spacingAndGlyphs">1.807</text>
<rect x="1337" y="353" width="4" height="4" fill="#8e8e8e"/>
<text transform="translate(1342.6,360.5655) rotate(-90)" font-size="10" fill="#909090" text-anchor="end" textLength="21.5" lengthAdjust="spacingAndGlyphs">2.145</text>
<rect x="1449" y="284" width="4" height="4" fill="#8e8e8e"/>
<text transform="translate(1454.6,291.23400000000004) rotate(-90)" font-size="10" fill="#909090" text-anchor="end" textLength="21.5" lengthAdjust="spacingAndGlyphs">1.060</text>
<rect x="1561" y="284" width="4" height="4" fill="#8e8e8e"/>
<text transform="translate(1566.6,291.23400000000004) rotate(-90)" font-size="10" fill="#909090" text-anchor="end" textLength="21.5" lengthAdjust="spacingAndGlyphs">1.060</text>
<rect x="441.0" y="216" width="4" height="4" fill="#00008f"/>
<rect x="1561.0" y="216" width="4" height="4" fill="#00008f"/>
<rect x="441.0" y="215" width="4" height="4" fill="#0000ff"/>
<text transform="translate(446.6,210.5415) rotate(-90)" font-size="10" fill="#0000ff" text-anchor="start" textLength="26.6" lengthAdjust="spacingAndGlyphs">-0.015</text>
<rect x="1281.0" y="353" width="4" height="4" fill="#ff0000"/>
<text transform="translate(1286.6,360.5655) rotate(-90)" font-size="10" fill="#ff0000" text-anchor="end" textLength="21.5" lengthAdjust="spacingAndGlyphs">2.145</text>
<rect x="443.5" y="506.4" width="140.0" height="26.6" fill="#cff1f8"/>
<rect x="583.5" y="530.6" width="140.0" height="2.4" fill="#cff1f8"/>
<rect x="723.5" y="533.0" width="140.0" height="16.5" fill="#fde6c9"/>
<rect x="863.5" y="533.0" width="140.0" height="35.4" fill="#fde6c9"/>
<rect x="1003.5" y="533.0" width="140.0" height="54.8" fill="#fde6c9"/>
<rect x="1143.5" y="533.0" width="140.0" height="74.9" fill="#fde6c9"/>
<rect x="1283.5" y="533.0" width="140.0" height="97.6" fill="#fde6c9"/>
<rect x="1423.5" y="533.0" width="140.0" height="111.0" fill="#fde6c9"/>
<path d="M443.0 533 L443.0 506.4 L583.5 506.4 L583.5 530.6 L723.5 530.6 L723.5 549.5 L863.5 549.5 L863.5 568.4 L1003.5 568.4 L1003.5 587.8 L1143.5 587.8 L1143.5 607.9 L1283.5 607.9 L1283.5 630.6 L1423.5 630.6 L1423.5 644.0 L1563.2 644.0 L1563.2 533" fill="none" stroke="#7d7d7d" stroke-width="1.5" stroke-linejoin="miter"/>
<path d="M583.5 533 L583.5 530.6" stroke="#6a6a6a" stroke-width="1"/>
<path d="M863.5 533 L863.5 549.5" stroke="#6a6a6a" stroke-width="1"/>
<path d="M1003.5 533 L1003.5 568.4" stroke="#6a6a6a" stroke-width="1"/>
<path d="M1143.5 533 L1143.5 587.8" stroke="#6a6a6a" stroke-width="1"/>
<path d="M1283.5 533 L1283.5 607.9" stroke="#6a6a6a" stroke-width="1"/>
<path d="M1423.5 533 L1423.5 630.6" stroke="#6a6a6a" stroke-width="1"/>
<path d="M555.5 533 L555.5 506.4" stroke="#2f8d7d" stroke-width="1" stroke-dasharray="4 2"/>
<path d="M779.5 533 L779.5 549.5" stroke="#2f8d7d" stroke-width="1" stroke-dasharray="4 2"/>
<path d="M891.5 533 L891.5 568.4" stroke="#2f8d7d" stroke-width="1" stroke-dasharray="4 2"/>
<path d="M1003.5 533 L1003.5 568.4" stroke="#2f8d7d" stroke-width="1" stroke-dasharray="4 2"/>
<path d="M1115.5 533 L1115.5 587.8" stroke="#2f8d7d" stroke-width="1" stroke-dasharray="4 2"/>
<path d="M1227.5 533 L1227.5 607.9" stroke="#2f8d7d" stroke-width="1" stroke-dasharray="4 2"/>
<path d="M1339.5 533 L1339.5 630.6" stroke="#2f8d7d" stroke-width="1" stroke-dasharray="4 2"/>
<path d="M1451.5 533 L1451.5 644.0" stroke="#2f8d7d" stroke-width="1" stroke-dasharray="4 2"/>
<rect x="443.0" y="532" width="1121.0" height="2" fill="#00008f"/>
<rect x="553" y="504" width="4" height="4" fill="#8e8e8e"/>
<text transform="translate(558.6,499.86181) rotate(-90)" font-size="10" fill="#909090" text-anchor="start" textLength="31.4" lengthAdjust="spacingAndGlyphs">-14.915</text>
<rect x="665" y="529" width="4" height="4" fill="#8e8e8e"/>
<text transform="translate(670.6,524.144266) rotate(-90)" font-size="10" fill="#909090" text-anchor="start" textLength="26.6" lengthAdjust="spacingAndGlyphs">-1.319</text>
<rect x="777" y="547" width="4" height="4" fill="#8e8e8e"/>
<text transform="translate(782.6,554.96692) rotate(-90)" font-size="10" fill="#909090" text-anchor="end" textLength="21.5" lengthAdjust="spacingAndGlyphs">9.220</text>
<rect x="889" y="566" width="4" height="4" fill="#8e8e8e"/>
<text transform="translate(894.6,573.873516) rotate(-90)" font-size="10" fill="#909090" text-anchor="end" textLength="26.3" lengthAdjust="spacingAndGlyphs">19.806</text>
<rect x="1113" y="586" width="4" height="4" fill="#8e8e8e"/>
<text transform="translate(1118.6,593.27662) rotate(-90)" font-size="10" fill="#909090" text-anchor="end" textLength="26.3" lengthAdjust="spacingAndGlyphs">30.670</text>
<rect x="1225" y="606" width="4" height="4" fill="#8e8e8e"/>
<text transform="translate(1230.6,613.390552) rotate(-90)" font-size="10" fill="#909090" text-anchor="end" textLength="26.3" lengthAdjust="spacingAndGlyphs">41.932</text>
<rect x="1337" y="629" width="4" height="4" fill="#8e8e8e"/>
<text transform="translate(1342.6,636.072752) rotate(-90)" font-size="10" fill="#909090" text-anchor="end" textLength="26.3" lengthAdjust="spacingAndGlyphs">54.632</text>
<rect x="1449" y="642" width="4" height="4" fill="#8e8e8e"/>
<text transform="translate(1454.6,649.503472) rotate(-90)" font-size="10" fill="#909090" text-anchor="end" textLength="26.3" lengthAdjust="spacingAndGlyphs">62.152</text>
<rect x="1561" y="642" width="4" height="4" fill="#8e8e8e"/>
<text transform="translate(1566.6,649.503472) rotate(-90)" font-size="10" fill="#909090" text-anchor="end" textLength="26.3" lengthAdjust="spacingAndGlyphs">62.152</text>
<rect x="441.0" y="531" width="4" height="4" fill="#00008f"/>
<rect x="1561.0" y="531" width="4" height="4" fill="#00008f"/>
<rect x="441.0" y="504" width="4" height="4" fill="#0000ff"/>
<text transform="translate(446.6,499.86181) rotate(-90)" font-size="10" fill="#0000ff" text-anchor="start" textLength="31.4" lengthAdjust="spacingAndGlyphs">-14.915</text>
<rect x="1421.0" y="642" width="4" height="4" fill="#ff0000"/>
<text transform="translate(1426.6,649.503472) rotate(-90)" font-size="10" fill="#ff0000" text-anchor="end" textLength="26.3" lengthAdjust="spacingAndGlyphs">62.152</text>
<rect x="443.5" y="900.0" width="140.0" height="32.7" fill="#fde6c9"/>
<rect x="583.5" y="900.0" width="140.0" height="3.8" fill="#fde6c9"/>
<rect x="723.5" y="900.0" width="140.0" height="1.4" fill="#fde6c9"/>
<rect x="863.5" y="900.0" width="140.0" height="0.7" fill="#fde6c9"/>
<rect x="1003.5" y="900.0" width="140.0" height="1.8" fill="#fde6c9"/>
<rect x="1143.5" y="900.0" width="140.0" height="3.5" fill="#fde6c9"/>
<rect x="1283.5" y="900.0" width="140.0" height="2.2" fill="#fde6c9"/>
<rect x="1423.5" y="795.0" width="140.0" height="105.0" fill="#cff1f8"/>
<path d="M443.0 900 L443.0 932.7 L583.5 932.7 L583.5 903.8 L723.5 903.8 L723.5 901.4 L863.5 901.4 L863.5 900.7 L1003.5 900.7 L1003.5 901.8 L1143.5 901.8 L1143.5 903.5 L1283.5 903.5 L1283.5 902.2 L1423.5 902.2 L1423.5 795.0 L1563.2 795.0 L1563.2 900" fill="none" stroke="#7d7d7d" stroke-width="1.5" stroke-linejoin="miter"/>
<path d="M583.5 900 L583.5 903.8" stroke="#6a6a6a" stroke-width="1"/>
<path d="M723.5 900 L723.5 901.4" stroke="#6a6a6a" stroke-width="1"/>
<path d="M863.5 900 L863.5 900.7" stroke="#6a6a6a" stroke-width="1"/>
<path d="M1003.5 900 L1003.5 900.7" stroke="#6a6a6a" stroke-width="1"/>
<path d="M1143.5 900 L1143.5 901.8" stroke="#6a6a6a" stroke-width="1"/>
<path d="M1283.5 900 L1283.5 902.2" stroke="#6a6a6a" stroke-width="1"/>
<path d="M555.5 900 L555.5 932.7" stroke="#2f8d7d" stroke-width="1" stroke-dasharray="4 2"/>
<path d="M1451.5 900 L1451.5 795.0" stroke="#2f8d7d" stroke-width="1" stroke-dasharray="4 2"/>
<rect x="443.0" y="899" width="1121.0" height="2" fill="#00008f"/>
<rect x="553" y="931" width="4" height="4" fill="#8e8e8e"/>
<text transform="translate(558.6,938.224) rotate(-90)" font-size="10" fill="#909090" text-anchor="end" textLength="21.5" lengthAdjust="spacingAndGlyphs">0.808</text>
<rect x="665" y="902" width="4" height="4" fill="#8e8e8e"/>
<text transform="translate(670.6,909.307) rotate(-90)" font-size="10" fill="#909090" text-anchor="end" textLength="21.5" lengthAdjust="spacingAndGlyphs">0.094</text>
<rect x="777" y="899" width="4" height="4" fill="#8e8e8e"/>
<text transform="translate(782.6,906.9175) rotate(-90)" font-size="10" fill="#909090" text-anchor="end" textLength="21.5" lengthAdjust="spacingAndGlyphs">0.035</text>
<rect x="889" y="899" width="4" height="4" fill="#8e8e8e"/>
<text transform="translate(894.6,906.229) rotate(-90)" font-size="10" fill="#909090" text-anchor="end" textLength="21.5" lengthAdjust="spacingAndGlyphs">0.018</text>
<rect x="1113" y="900" width="4" height="4" fill="#8e8e8e"/>
<text transform="translate(1118.6,907.282) rotate(-90)" font-size="10" fill="#909090" text-anchor="end" textLength="21.5" lengthAdjust="spacingAndGlyphs">0.044</text>
<rect x="1225" y="902" width="4" height="4" fill="#8e8e8e"/>
<text transform="translate(1230.6,909.0235) rotate(-90)" font-size="10" fill="#909090" text-anchor="end" textLength="21.5" lengthAdjust="spacingAndGlyphs">0.087</text>
<rect x="1337" y="900" width="4" height="4" fill="#8e8e8e"/>
<text transform="translate(1342.6,907.7275) rotate(-90)" font-size="10" fill="#909090" text-anchor="end" textLength="21.5" lengthAdjust="spacingAndGlyphs">0.055</text>
<rect x="1449" y="793" width="4" height="4" fill="#8e8e8e"/>
<text transform="translate(1454.6,788.4835) rotate(-90)" font-size="10" fill="#909090" text-anchor="start" textLength="26.6" lengthAdjust="spacingAndGlyphs">-2.593</text>
<rect x="1561" y="793" width="4" height="4" fill="#8e8e8e"/>
<text transform="translate(1566.6,788.4835) rotate(-90)" font-size="10" fill="#909090" text-anchor="start" textLength="26.6" lengthAdjust="spacingAndGlyphs">-2.593</text>
<rect x="441.0" y="898" width="4" height="4" fill="#00008f"/>
<rect x="1561.0" y="898" width="4" height="4" fill="#00008f"/>
<rect x="1421.0" y="793" width="4" height="4" fill="#0000ff"/>
<text transform="translate(1426.6,788.4835) rotate(-90)" font-size="10" fill="#0000ff" text-anchor="start" textLength="26.6" lengthAdjust="spacingAndGlyphs">-2.593</text>
<rect x="441.0" y="931" width="4" height="4" fill="#ff0000"/>
<text transform="translate(446.6,938.224) rotate(-90)" font-size="10" fill="#ff0000" text-anchor="end" textLength="21.5" lengthAdjust="spacingAndGlyphs">0.808</text>
<rect x="870" y="316.7" width="9" height="8" fill="#ff00ff"/>
<rect x="870" y="564.6" width="9" height="8" fill="#ff00ff"/>
<rect x="870" y="897.7" width="9" height="8" fill="#ff00ff"/>
<rect x="873" y="169" width="1" height="827" fill="#a4a4a4"/></svg>
<div style="position:absolute;left:818px;top:324px;width:55px;height:18px;background:#f0f0f0;"></div>
<div style="position:absolute;left:820.5px;top:325.0px;line-height:17px;font-size:11px;color:#6e6e6e;white-space:pre;transform:scaleX(0.871);transform-origin:0 50%;">1.603 kN/m</div>
<div style="position:absolute;left:813px;top:572px;width:60px;height:18px;background:#f0f0f0;"></div>
<div style="position:absolute;left:815.5px;top:573.0px;line-height:17px;font-size:11px;color:#6e6e6e;white-space:pre;transform:scaleX(0.866);transform-origin:0 50%;">19.806 kN/m</div>
<div style="position:absolute;left:873px;top:880px;width:56px;height:18px;background:#f0f0f0;"></div>
<div style="position:absolute;left:875.5px;top:881.0px;line-height:17px;font-size:11px;color:#6e6e6e;white-space:pre;transform:scaleX(0.889);transform-origin:0 50%;">0.018 kN/m</div>
<div style="position:absolute;left:1624px;top:169px;width:250px;height:235px;background:#fff;box-sizing:border-box;border:1px solid #f5f5f5;border-top:none;"></div>
<div style="position:absolute;left:1625px;top:169px;width:248px;height:201px;overflow:hidden">
<div style="position:absolute;left:-1625px;top:-169px;width:1920px;height:1030px">
<div style="position:absolute;left:1625px;top:143px;width:227px;height:11px;background:#e1e1e1;"></div>
<div style="position:absolute;left:1625px;top:154px;width:227px;height:1px;background:#f6f6f6;"></div>
<div style="position:absolute;left:1625px;top:155px;width:227px;height:40px;background:#f0f0f0;"></div>
<div style="position:absolute;left:1726px;top:143px;width:1px;height:227px;background:#d4d4d4;"></div>
<div style="position:absolute;left:1726px;top:143px;width:1px;height:52px;background:#c9c9c9;"></div>
<div style="position:absolute;left:1625px;top:195px;width:227px;height:1px;background:#c4c4c4;"></div>
<div style="position:absolute;left:1625px;top:196px;width:1px;height:190px;background:#e0e0e0;"></div>
<div style="position:absolute;left:1851px;top:143px;width:1px;height:240px;background:#d9d9d9;"></div>
<div style="position:absolute;left:1476px;width:400px;text-align:center;top:155.8px;line-height:19px;font-size:13px;color:#000;white-space:pre;">x</div>
<div style="position:absolute;left:1589px;width:400px;text-align:center;top:155.8px;line-height:19px;font-size:13px;color:#000;white-space:pre;">n<span style="font-size:11.5px;position:relative;top:2px">x</span></div>
<div style="position:absolute;left:1476px;width:400px;text-align:center;top:175.3px;line-height:19px;font-size:13px;color:#000;white-space:pre;">[m]</div>
<div style="position:absolute;left:1589px;width:400px;text-align:center;top:175.3px;line-height:19px;font-size:13px;color:#000;white-space:pre;letter-spacing:-0.2px;">[kN/m]</div>
<div style="position:absolute;left:1625px;top:215px;width:227px;height:1px;background:#d9d9d9;"></div>
<div style="position:absolute;right:215px;top:196.5px;line-height:19px;font-size:13px;color:#000;white-space:pre;letter-spacing:-0.35px;">0.000</div>
<svg style="position:absolute;left:1711px;top:199.0px;" width="7" height="14" viewBox="0 0 7 14"><path d="M1 0.5 V13.5" stroke="#333" stroke-width="1.1"/><polygon points="2.6,1.2 6.2,4 2.6,6.8" fill="#555"/></svg>
<div style="position:absolute;left:1732px;top:198px;width:1px;height:15px;background:#b9b9b9;"></div>
<div style="position:absolute;right:90px;top:196.5px;line-height:19px;font-size:13px;color:#000;white-space:pre;letter-spacing:-0.35px;">-0.015</div>
<div style="position:absolute;left:1837px;top:199px;width:6px;height:6px;background:#b00000;"></div>
<div style="position:absolute;left:1837px;top:207px;width:6px;height:6px;background:#6e6e6e;"></div>
<div style="position:absolute;left:1625px;top:235px;width:227px;height:1px;background:#d9d9d9;"></div>
<div style="position:absolute;right:215px;top:216.5px;line-height:19px;font-size:13px;color:#000;white-space:pre;letter-spacing:-0.35px;">0.250</div>
<div style="position:absolute;left:1732px;top:218px;width:1px;height:15px;background:#b9b9b9;"></div>
<div style="position:absolute;right:90px;top:216.5px;line-height:19px;font-size:13px;color:#000;white-space:pre;letter-spacing:-0.35px;">-0.015</div>
<div style="position:absolute;left:1837px;top:219px;width:6px;height:6px;background:#b00000;"></div>
<div style="position:absolute;left:1837px;top:227px;width:6px;height:6px;background:#6e6e6e;"></div>
<div style="position:absolute;left:1625px;top:255px;width:227px;height:1px;background:#d9d9d9;"></div>
<div style="position:absolute;right:215px;top:236.5px;line-height:19px;font-size:13px;color:#000;white-space:pre;letter-spacing:-0.35px;">0.250</div>
<div style="position:absolute;left:1732px;top:238px;width:53.7px;height:15px;background:#ffc1c1;"></div>
<div style="position:absolute;left:1732px;top:238px;width:1px;height:15px;background:#b9b9b9;"></div>
<div style="position:absolute;right:90px;top:236.5px;line-height:19px;font-size:13px;color:#000;white-space:pre;letter-spacing:-0.35px;">1.173</div>
<div style="position:absolute;left:1625px;top:275px;width:227px;height:1px;background:#d9d9d9;"></div>
<div style="position:absolute;right:215px;top:256.5px;line-height:19px;font-size:13px;color:#000;white-space:pre;letter-spacing:-0.35px;">0.500</div>
<svg style="position:absolute;left:1709px;top:259.0px;" width="13" height="14" viewBox="0 0 13 14"><text x="0" y="7.5" font-size="8" fill="#222" font-family="Liberation Sans">1</text><text x="7" y="12.5" font-size="8" fill="#222" font-family="Liberation Sans">4</text><path d="M2.5 11.5 L9.5 2.5" stroke="#666" stroke-width="0.8"/></svg>
<div style="position:absolute;left:1732px;top:258px;width:53.7px;height:15px;background:#ffc1c1;"></div>
<div style="position:absolute;left:1732px;top:258px;width:1px;height:15px;background:#b9b9b9;"></div>
<div style="position:absolute;right:90px;top:256.5px;line-height:19px;font-size:13px;color:#000;white-space:pre;letter-spacing:-0.35px;">1.173</div>
<div style="position:absolute;left:1625px;top:295px;width:227px;height:1px;background:#d9d9d9;"></div>
<div style="position:absolute;right:215px;top:276.5px;line-height:19px;font-size:13px;color:#000;white-space:pre;letter-spacing:-0.35px;">0.500</div>
<svg style="position:absolute;left:1709px;top:279.0px;" width="13" height="14" viewBox="0 0 13 14"><text x="0" y="7.5" font-size="8" fill="#222" font-family="Liberation Sans">1</text><text x="7" y="12.5" font-size="8" fill="#222" font-family="Liberation Sans">4</text><path d="M2.5 11.5 L9.5 2.5" stroke="#666" stroke-width="0.8"/></svg>
<div style="position:absolute;left:1732px;top:278px;width:66.3px;height:15px;background:#ffc1c1;"></div>
<div style="position:absolute;left:1732px;top:278px;width:1px;height:15px;background:#b9b9b9;"></div>
<div style="position:absolute;right:90px;top:276.5px;line-height:19px;font-size:13px;color:#000;white-space:pre;letter-spacing:-0.35px;">1.456</div>
<div style="position:absolute;left:1625px;top:315px;width:227px;height:1px;background:#d9d9d9;"></div>
<div style="position:absolute;right:215px;top:296.5px;line-height:19px;font-size:13px;color:#000;white-space:pre;letter-spacing:-0.35px;">0.750</div>
<div style="position:absolute;left:1732px;top:298px;width:66.3px;height:15px;background:#ffc1c1;"></div>
<div style="position:absolute;left:1732px;top:298px;width:1px;height:15px;background:#b9b9b9;"></div>
<div style="position:absolute;right:90px;top:296.5px;line-height:19px;font-size:13px;color:#000;white-space:pre;letter-spacing:-0.35px;">1.456</div>
<div style="position:absolute;left:1625px;top:335px;width:227px;height:1px;background:#d9d9d9;"></div>
<div style="position:absolute;right:215px;top:316.5px;line-height:19px;font-size:13px;color:#000;white-space:pre;letter-spacing:-0.35px;">0.750</div>
<div style="position:absolute;left:1732px;top:318px;width:72.8px;height:15px;background:#ffc1c1;"></div>
<div style="position:absolute;left:1732px;top:318px;width:1px;height:15px;background:#b9b9b9;"></div>
<div style="position:absolute;right:90px;top:316.5px;line-height:19px;font-size:13px;color:#000;white-space:pre;letter-spacing:-0.35px;">1.603</div>
<div style="position:absolute;left:1625px;top:355px;width:227px;height:1px;background:#d9d9d9;"></div>
<div style="position:absolute;right:215px;top:336.5px;line-height:19px;font-size:13px;color:#000;white-space:pre;letter-spacing:-0.35px;">1.000</div>
<svg style="position:absolute;left:1709px;top:339.0px;" width="13" height="14" viewBox="0 0 13 14"><text x="0" y="7.5" font-size="8" fill="#222" font-family="Liberation Sans">1</text><text x="7" y="12.5" font-size="8" fill="#222" font-family="Liberation Sans">2</text><path d="M2.5 11.5 L9.5 2.5" stroke="#666" stroke-width="0.8"/></svg>
<div style="position:absolute;left:1732px;top:338px;width:72.8px;height:15px;background:#ffc1c1;"></div>
<div style="position:absolute;left:1732px;top:338px;width:1px;height:15px;background:#b9b9b9;"></div>
<div style="position:absolute;right:90px;top:336.5px;line-height:19px;font-size:13px;color:#000;white-space:pre;letter-spacing:-0.35px;">1.603</div>
<div style="position:absolute;left:1625px;top:375px;width:227px;height:1px;background:#d9d9d9;"></div>
<div style="position:absolute;right:215px;top:356.5px;line-height:19px;font-size:13px;color:#000;white-space:pre;letter-spacing:-0.35px;">1.000</div>
<svg style="position:absolute;left:1709px;top:359.0px;" width="13" height="14" viewBox="0 0 13 14"><text x="0" y="7.5" font-size="8" fill="#222" font-family="Liberation Sans">1</text><text x="7" y="12.5" font-size="8" fill="#222" font-family="Liberation Sans">2</text><path d="M2.5 11.5 L9.5 2.5" stroke="#666" stroke-width="0.8"/></svg>
<div style="position:absolute;left:1732px;top:358px;width:77.1px;height:15px;background:#ffc1c1;"></div>
<div style="position:absolute;left:1732px;top:358px;width:1px;height:15px;background:#b9b9b9;"></div>
<div style="position:absolute;right:90px;top:356.5px;line-height:19px;font-size:13px;color:#000;white-space:pre;letter-spacing:-0.35px;">1.698</div>
</div></div>
<div style="position:absolute;left:1853px;top:169px;width:19px;height:201px;background:#f0f0f0;"></div>
<div style="position:absolute;left:1853px;top:169px;width:19px;height:86.5px;background:#c9c9c9;"></div>
<svg style="position:absolute;left:1857px;top:356px;" width="11" height="7" viewBox="0 0 11 7"><polyline points="1,1.2 5.5,5.7 10,1.2" fill="none" stroke="#3c3c3c" stroke-width="1.9"/></svg>
<div style="position:absolute;left:1631px;top:375px;width:29px;height:24px;background:#cce4f7;"></div>
<div style="position:absolute;left:1664px;top:375px;width:29px;height:24px;background:#cce4f7;"></div>
<svg style="position:absolute;left:1632px;top:376px;" width="26" height="22" viewBox="0 0 26 22"><defs></defs><path d="M5 1.5 H21 L14.5 9 H11.5 Z" fill="#6d8ec6"/><path d="M11.5 9 H14.5 L13.6 15 H12.4 Z" fill="#9bb7e6"/><text x="13" y="20.5" font-size="10" text-anchor="middle" fill="#111" font-family="Liberation Sans">max</text></svg>
<svg style="position:absolute;left:1665px;top:376px;" width="26" height="22" viewBox="0 0 26 22"><path d="M5 1.5 H21 L14.5 9 H11.5 Z" fill="#6d8ec6"/><path d="M11.5 9 H14.5 L13.6 16 H12.4 Z" fill="#9bb7e6"/><circle cx="13" cy="19" r="2.2" fill="#e01010"/></svg>
<div style="position:absolute;left:1624px;top:431px;width:250px;height:262px;background:#fff;box-sizing:border-box;border:1px solid #f5f5f5;"></div>
<div style="position:absolute;left:1625px;top:432px;width:248px;height:227px;overflow:hidden">
<div style="position:absolute;left:-1625px;top:-432px;width:1920px;height:1030px">
<div style="position:absolute;left:1625px;top:432px;width:227px;height:11px;background:#e1e1e1;"></div>
<div style="position:absolute;left:1625px;top:443px;width:227px;height:1px;background:#f6f6f6;"></div>
<div style="position:absolute;left:1625px;top:444px;width:227px;height:40px;background:#f0f0f0;"></div>
<div style="position:absolute;left:1726px;top:432px;width:1px;height:227px;background:#d4d4d4;"></div>
<div style="position:absolute;left:1726px;top:432px;width:1px;height:52px;background:#c9c9c9;"></div>
<div style="position:absolute;left:1625px;top:484px;width:227px;height:1px;background:#c4c4c4;"></div>
<div style="position:absolute;left:1625px;top:485px;width:1px;height:190px;background:#e0e0e0;"></div>
<div style="position:absolute;left:1851px;top:432px;width:1px;height:240px;background:#d9d9d9;"></div>
<div style="position:absolute;left:1476px;width:400px;text-align:center;top:444.8px;line-height:19px;font-size:13px;color:#000;white-space:pre;">x</div>
<div style="position:absolute;left:1589px;width:400px;text-align:center;top:444.8px;line-height:19px;font-size:13px;color:#000;white-space:pre;">n<span style="font-size:11.5px;position:relative;top:2px">y</span></div>
<div style="position:absolute;left:1476px;width:400px;text-align:center;top:464.3px;line-height:19px;font-size:13px;color:#000;white-space:pre;">[m]</div>
<div style="position:absolute;left:1589px;width:400px;text-align:center;top:464.3px;line-height:19px;font-size:13px;color:#000;white-space:pre;letter-spacing:-0.2px;">[kN/m]</div>
<div style="position:absolute;left:1625px;top:504px;width:227px;height:1px;background:#d9d9d9;"></div>
<div style="position:absolute;right:215px;top:485.5px;line-height:19px;font-size:13px;color:#000;white-space:pre;letter-spacing:-0.35px;">0.000</div>
<svg style="position:absolute;left:1711px;top:488.0px;" width="7" height="14" viewBox="0 0 7 14"><path d="M1 0.5 V13.5" stroke="#333" stroke-width="1.1"/><polygon points="2.6,1.2 6.2,4 2.6,6.8" fill="#555"/></svg>
<div style="position:absolute;left:1731.8px;top:487px;width:18.2px;height:15px;background:#d5e1fb;"></div>
<div style="position:absolute;left:1750px;top:487px;width:1px;height:15px;background:#b9b9b9;"></div>
<div style="position:absolute;right:90px;top:485.5px;line-height:19px;font-size:13px;color:#000;white-space:pre;letter-spacing:-0.35px;">-14.915</div>
<div style="position:absolute;left:1837px;top:488px;width:6px;height:6px;background:#b00000;"></div>
<div style="position:absolute;left:1837px;top:496px;width:6px;height:6px;background:#6e6e6e;"></div>
<div style="position:absolute;left:1625px;top:524px;width:227px;height:1px;background:#d9d9d9;"></div>
<div style="position:absolute;right:215px;top:505.5px;line-height:19px;font-size:13px;color:#000;white-space:pre;letter-spacing:-0.35px;">0.250</div>
<div style="position:absolute;left:1731.8px;top:507px;width:18.2px;height:15px;background:#d5e1fb;"></div>
<div style="position:absolute;left:1750px;top:507px;width:1px;height:15px;background:#b9b9b9;"></div>
<div style="position:absolute;right:90px;top:505.5px;line-height:19px;font-size:13px;color:#000;white-space:pre;letter-spacing:-0.35px;">-14.915</div>
<div style="position:absolute;left:1837px;top:508px;width:6px;height:6px;background:#b00000;"></div>
<div style="position:absolute;left:1837px;top:516px;width:6px;height:6px;background:#6e6e6e;"></div>
<div style="position:absolute;left:1625px;top:544px;width:227px;height:1px;background:#d9d9d9;"></div>
<div style="position:absolute;right:215px;top:525.5px;line-height:19px;font-size:13px;color:#000;white-space:pre;letter-spacing:-0.35px;">0.250</div>
<div style="position:absolute;left:1748.4px;top:527px;width:1.6px;height:15px;background:#d5e1fb;"></div>
<div style="position:absolute;left:1750px;top:527px;width:1px;height:15px;background:#b9b9b9;"></div>
<div style="position:absolute;right:90px;top:525.5px;line-height:19px;font-size:13px;color:#000;white-space:pre;letter-spacing:-0.35px;">-1.319</div>
<div style="position:absolute;left:1625px;top:564px;width:227px;height:1px;background:#d9d9d9;"></div>
<div style="position:absolute;right:215px;top:545.5px;line-height:19px;font-size:13px;color:#000;white-space:pre;letter-spacing:-0.35px;">0.500</div>
<svg style="position:absolute;left:1709px;top:548.0px;" width="13" height="14" viewBox="0 0 13 14"><text x="0" y="7.5" font-size="8" fill="#222" font-family="Liberation Sans">1</text><text x="7" y="12.5" font-size="8" fill="#222" font-family="Liberation Sans">4</text><path d="M2.5 11.5 L9.5 2.5" stroke="#666" stroke-width="0.8"/></svg>
<div style="position:absolute;left:1748.4px;top:547px;width:1.6px;height:15px;background:#d5e1fb;"></div>
<div style="position:absolute;left:1750px;top:547px;width:1px;height:15px;background:#b9b9b9;"></div>
<div style="position:absolute;right:90px;top:545.5px;line-height:19px;font-size:13px;color:#000;white-space:pre;letter-spacing:-0.35px;">-1.319</div>
<div style="position:absolute;left:1625px;top:584px;width:227px;height:1px;background:#d9d9d9;"></div>
<div style="position:absolute;right:215px;top:565.5px;line-height:19px;font-size:13px;color:#000;white-space:pre;letter-spacing:-0.35px;">0.500</div>
<svg style="position:absolute;left:1709px;top:568.0px;" width="13" height="14" viewBox="0 0 13 14"><text x="0" y="7.5" font-size="8" fill="#222" font-family="Liberation Sans">1</text><text x="7" y="12.5" font-size="8" fill="#222" font-family="Liberation Sans">4</text><path d="M2.5 11.5 L9.5 2.5" stroke="#666" stroke-width="0.8"/></svg>
<div style="position:absolute;left:1750px;top:567px;width:12.7px;height:15px;background:#ffc1c1;"></div>
<div style="position:absolute;left:1750px;top:567px;width:1px;height:15px;background:#b9b9b9;"></div>
<div style="position:absolute;right:90px;top:565.5px;line-height:19px;font-size:13px;color:#000;white-space:pre;letter-spacing:-0.35px;">9.220</div>
<div style="position:absolute;left:1625px;top:604px;width:227px;height:1px;background:#d9d9d9;"></div>
<div style="position:absolute;right:215px;top:585.5px;line-height:19px;font-size:13px;color:#000;white-space:pre;letter-spacing:-0.35px;">0.750</div>
<div style="position:absolute;left:1750px;top:587px;width:12.7px;height:15px;background:#ffc1c1;"></div>
<div style="position:absolute;left:1750px;top:587px;width:1px;height:15px;background:#b9b9b9;"></div>
<div style="position:absolute;right:90px;top:585.5px;line-height:19px;font-size:13px;color:#000;white-space:pre;letter-spacing:-0.35px;">9.220</div>
<div style="position:absolute;left:1625px;top:624px;width:227px;height:1px;background:#d9d9d9;"></div>
<div style="position:absolute;right:215px;top:605.5px;line-height:19px;font-size:13px;color:#000;white-space:pre;letter-spacing:-0.35px;">0.750</div>
<div style="position:absolute;left:1750px;top:607px;width:25.7px;height:15px;background:#ffc1c1;"></div>
<div style="position:absolute;left:1750px;top:607px;width:1px;height:15px;background:#b9b9b9;"></div>
<div style="position:absolute;right:90px;top:605.5px;line-height:19px;font-size:13px;color:#000;white-space:pre;letter-spacing:-0.35px;">19.806</div>
<div style="position:absolute;left:1625px;top:644px;width:227px;height:1px;background:#d9d9d9;"></div>
<div style="position:absolute;right:215px;top:625.5px;line-height:19px;font-size:13px;color:#000;white-space:pre;letter-spacing:-0.35px;">1.000</div>
<svg style="position:absolute;left:1709px;top:628.0px;" width="13" height="14" viewBox="0 0 13 14"><text x="0" y="7.5" font-size="8" fill="#222" font-family="Liberation Sans">1</text><text x="7" y="12.5" font-size="8" fill="#222" font-family="Liberation Sans">2</text><path d="M2.5 11.5 L9.5 2.5" stroke="#666" stroke-width="0.8"/></svg>
<div style="position:absolute;left:1750px;top:627px;width:25.7px;height:15px;background:#ffc1c1;"></div>
<div style="position:absolute;left:1750px;top:627px;width:1px;height:15px;background:#b9b9b9;"></div>
<div style="position:absolute;right:90px;top:625.5px;line-height:19px;font-size:13px;color:#000;white-space:pre;letter-spacing:-0.35px;">19.806</div>
<div style="position:absolute;left:1625px;top:664px;width:227px;height:1px;background:#d9d9d9;"></div>
<div style="position:absolute;right:215px;top:645.5px;line-height:19px;font-size:13px;color:#000;white-space:pre;letter-spacing:-0.35px;">1.000</div>
<svg style="position:absolute;left:1709px;top:648.0px;" width="13" height="14" viewBox="0 0 13 14"><text x="0" y="7.5" font-size="8" fill="#222" font-family="Liberation Sans">1</text><text x="7" y="12.5" font-size="8" fill="#222" font-family="Liberation Sans">2</text><path d="M2.5 11.5 L9.5 2.5" stroke="#666" stroke-width="0.8"/></svg>
<div style="position:absolute;left:1750px;top:647px;width:38.9px;height:15px;background:#ffc1c1;"></div>
<div style="position:absolute;left:1750px;top:647px;width:1px;height:15px;background:#b9b9b9;"></div>
<div style="position:absolute;right:90px;top:645.5px;line-height:19px;font-size:13px;color:#000;white-space:pre;letter-spacing:-0.35px;">30.670</div>
</div></div>
<div style="position:absolute;left:1853px;top:432px;width:19px;height:227px;background:#f0f0f0;"></div>
<div style="position:absolute;left:1853px;top:453.5px;width:19px;height:91.0px;background:#c9c9c9;"></div>
<svg style="position:absolute;left:1857px;top:439.5px;" width="11" height="7" viewBox="0 0 11 7"><polyline points="1,5.8 5.5,1.3 10,5.8" fill="none" stroke="#3c3c3c" stroke-width="1.9"/></svg>
<svg style="position:absolute;left:1857px;top:645px;" width="11" height="7" viewBox="0 0 11 7"><polyline points="1,1.2 5.5,5.7 10,1.2" fill="none" stroke="#3c3c3c" stroke-width="1.9"/></svg>
<div style="position:absolute;left:1631px;top:664px;width:29px;height:24px;background:#cce4f7;"></div>
<div style="position:absolute;left:1664px;top:664px;width:29px;height:24px;background:#cce4f7;"></div>
<svg style="position:absolute;left:1632px;top:665px;" width="26" height="22" viewBox="0 0 26 22"><defs></defs><path d="M5 1.5 H21 L14.5 9 H11.5 Z" fill="#6d8ec6"/><path d="M11.5 9 H14.5 L13.6 15 H12.4 Z" fill="#9bb7e6"/><text x="13" y="20.5" font-size="10" text-anchor="middle" fill="#111" font-family="Liberation Sans">max</text></svg>
<svg style="position:absolute;left:1665px;top:665px;" width="26" height="22" viewBox="0 0 26 22"><path d="M5 1.5 H21 L14.5 9 H11.5 Z" fill="#6d8ec6"/><path d="M11.5 9 H14.5 L13.6 16 H12.4 Z" fill="#9bb7e6"/><circle cx="13" cy="19" r="2.2" fill="#e01010"/></svg>
<div style="position:absolute;left:1624px;top:720px;width:250px;height:262px;background:#fff;box-sizing:border-box;border:1px solid #f5f5f5;"></div>
<div style="position:absolute;left:1625px;top:721px;width:248px;height:227px;overflow:hidden">
<div style="position:absolute;left:-1625px;top:-721px;width:1920px;height:1030px">
<div style="position:absolute;left:1625px;top:721px;width:227px;height:11px;background:#e1e1e1;"></div>
<div style="position:absolute;left:1625px;top:732px;width:227px;height:1px;background:#f6f6f6;"></div>
<div style="position:absolute;left:1625px;top:733px;width:227px;height:40px;background:#f0f0f0;"></div>
<div style="position:absolute;left:1726px;top:721px;width:1px;height:227px;background:#d4d4d4;"></div>
<div style="position:absolute;left:1726px;top:721px;width:1px;height:52px;background:#c9c9c9;"></div>
<div style="position:absolute;left:1625px;top:773px;width:227px;height:1px;background:#c4c4c4;"></div>
<div style="position:absolute;left:1625px;top:774px;width:1px;height:190px;background:#e0e0e0;"></div>
<div style="position:absolute;left:1851px;top:721px;width:1px;height:240px;background:#d9d9d9;"></div>
<div style="position:absolute;left:1476px;width:400px;text-align:center;top:733.8px;line-height:19px;font-size:13px;color:#000;white-space:pre;">x</div>
<div style="position:absolute;left:1589px;width:400px;text-align:center;top:733.8px;line-height:19px;font-size:13px;color:#000;white-space:pre;">n<span style="font-size:11.5px;position:relative;top:2px">xy</span></div>
<div style="position:absolute;left:1476px;width:400px;text-align:center;top:753.3px;line-height:19px;font-size:13px;color:#000;white-space:pre;">[m]</div>
<div style="position:absolute;left:1589px;width:400px;text-align:center;top:753.3px;line-height:19px;font-size:13px;color:#000;white-space:pre;letter-spacing:-0.2px;">[kN/m]</div>
<div style="position:absolute;left:1625px;top:793px;width:227px;height:1px;background:#d9d9d9;"></div>
<div style="position:absolute;right:215px;top:774.5px;line-height:19px;font-size:13px;color:#000;white-space:pre;letter-spacing:-0.35px;">0.000</div>
<svg style="position:absolute;left:1711px;top:777.0px;" width="7" height="14" viewBox="0 0 7 14"><path d="M1 0.5 V13.5" stroke="#333" stroke-width="1.1"/><polygon points="2.6,1.2 6.2,4 2.6,6.8" fill="#555"/></svg>
<div style="position:absolute;left:1805px;top:776px;width:24.3px;height:15px;background:#ffc1c1;"></div>
<div style="position:absolute;left:1805px;top:776px;width:1px;height:15px;background:#b9b9b9;"></div>
<div style="position:absolute;right:90px;top:774.5px;line-height:19px;font-size:13px;color:#000;white-space:pre;letter-spacing:-0.35px;">0.808</div>
<div style="position:absolute;left:1837px;top:777px;width:6px;height:6px;background:#6e6e6e;"></div>
<div style="position:absolute;left:1837px;top:785px;width:6px;height:6px;background:#3c3cf0;"></div>
<div style="position:absolute;left:1625px;top:813px;width:227px;height:1px;background:#d9d9d9;"></div>
<div style="position:absolute;right:215px;top:794.5px;line-height:19px;font-size:13px;color:#000;white-space:pre;letter-spacing:-0.35px;">0.250</div>
<div style="position:absolute;left:1805px;top:796px;width:24.3px;height:15px;background:#ffc1c1;"></div>
<div style="position:absolute;left:1805px;top:796px;width:1px;height:15px;background:#b9b9b9;"></div>
<div style="position:absolute;right:90px;top:794.5px;line-height:19px;font-size:13px;color:#000;white-space:pre;letter-spacing:-0.35px;">0.808</div>
<div style="position:absolute;left:1837px;top:797px;width:6px;height:6px;background:#6e6e6e;"></div>
<div style="position:absolute;left:1837px;top:805px;width:6px;height:6px;background:#3c3cf0;"></div>
<div style="position:absolute;left:1625px;top:833px;width:227px;height:1px;background:#d9d9d9;"></div>
<div style="position:absolute;right:215px;top:814.5px;line-height:19px;font-size:13px;color:#000;white-space:pre;letter-spacing:-0.35px;">0.250</div>
<div style="position:absolute;left:1805px;top:816px;width:4.2px;height:15px;background:#ffc1c1;"></div>
<div style="position:absolute;left:1805px;top:816px;width:1px;height:15px;background:#b9b9b9;"></div>
<div style="position:absolute;right:90px;top:814.5px;line-height:19px;font-size:13px;color:#000;white-space:pre;letter-spacing:-0.35px;">0.094</div>
<div style="position:absolute;left:1625px;top:853px;width:227px;height:1px;background:#d9d9d9;"></div>
<div style="position:absolute;right:215px;top:834.5px;line-height:19px;font-size:13px;color:#000;white-space:pre;letter-spacing:-0.35px;">0.500</div>
<svg style="position:absolute;left:1709px;top:837.0px;" width="13" height="14" viewBox="0 0 13 14"><text x="0" y="7.5" font-size="8" fill="#222" font-family="Liberation Sans">1</text><text x="7" y="12.5" font-size="8" fill="#222" font-family="Liberation Sans">4</text><path d="M2.5 11.5 L9.5 2.5" stroke="#666" stroke-width="0.8"/></svg>
<div style="position:absolute;left:1805px;top:836px;width:4.2px;height:15px;background:#ffc1c1;"></div>
<div style="position:absolute;left:1805px;top:836px;width:1px;height:15px;background:#b9b9b9;"></div>
<div style="position:absolute;right:90px;top:834.5px;line-height:19px;font-size:13px;color:#000;white-space:pre;letter-spacing:-0.35px;">0.094</div>
<div style="position:absolute;left:1625px;top:873px;width:227px;height:1px;background:#d9d9d9;"></div>
<div style="position:absolute;right:215px;top:854.5px;line-height:19px;font-size:13px;color:#000;white-space:pre;letter-spacing:-0.35px;">0.500</div>
<svg style="position:absolute;left:1709px;top:857.0px;" width="13" height="14" viewBox="0 0 13 14"><text x="0" y="7.5" font-size="8" fill="#222" font-family="Liberation Sans">1</text><text x="7" y="12.5" font-size="8" fill="#222" font-family="Liberation Sans">4</text><path d="M2.5 11.5 L9.5 2.5" stroke="#666" stroke-width="0.8"/></svg>
<div style="position:absolute;left:1805px;top:856px;width:2.5px;height:15px;background:#ffc1c1;"></div>
<div style="position:absolute;left:1805px;top:856px;width:1px;height:15px;background:#b9b9b9;"></div>
<div style="position:absolute;right:90px;top:854.5px;line-height:19px;font-size:13px;color:#000;white-space:pre;letter-spacing:-0.35px;">0.035</div>
<div style="position:absolute;left:1625px;top:893px;width:227px;height:1px;background:#d9d9d9;"></div>
<div style="position:absolute;right:215px;top:874.5px;line-height:19px;font-size:13px;color:#000;white-space:pre;letter-spacing:-0.35px;">0.750</div>
<div style="position:absolute;left:1805px;top:876px;width:2.5px;height:15px;background:#ffc1c1;"></div>
<div style="position:absolute;left:1805px;top:876px;width:1px;height:15px;background:#b9b9b9;"></div>
<div style="position:absolute;right:90px;top:874.5px;line-height:19px;font-size:13px;color:#000;white-space:pre;letter-spacing:-0.35px;">0.035</div>
<div style="position:absolute;left:1625px;top:913px;width:227px;height:1px;background:#d9d9d9;"></div>
<div style="position:absolute;right:215px;top:894.5px;line-height:19px;font-size:13px;color:#000;white-space:pre;letter-spacing:-0.35px;">0.750</div>
<div style="position:absolute;left:1805px;top:896px;width:2.0px;height:15px;background:#ffc1c1;"></div>
<div style="position:absolute;left:1805px;top:896px;width:1px;height:15px;background:#b9b9b9;"></div>
<div style="position:absolute;right:90px;top:894.5px;line-height:19px;font-size:13px;color:#000;white-space:pre;letter-spacing:-0.35px;">0.018</div>
<div style="position:absolute;left:1625px;top:933px;width:227px;height:1px;background:#d9d9d9;"></div>
<div style="position:absolute;right:215px;top:914.5px;line-height:19px;font-size:13px;color:#000;white-space:pre;letter-spacing:-0.35px;">1.000</div>
<svg style="position:absolute;left:1709px;top:917.0px;" width="13" height="14" viewBox="0 0 13 14"><text x="0" y="7.5" font-size="8" fill="#222" font-family="Liberation Sans">1</text><text x="7" y="12.5" font-size="8" fill="#222" font-family="Liberation Sans">2</text><path d="M2.5 11.5 L9.5 2.5" stroke="#666" stroke-width="0.8"/></svg>
<div style="position:absolute;left:1805px;top:916px;width:2.0px;height:15px;background:#ffc1c1;"></div>
<div style="position:absolute;left:1805px;top:916px;width:1px;height:15px;background:#b9b9b9;"></div>
<div style="position:absolute;right:90px;top:914.5px;line-height:19px;font-size:13px;color:#000;white-space:pre;letter-spacing:-0.35px;">0.018</div>
<div style="position:absolute;left:1625px;top:953px;width:227px;height:1px;background:#d9d9d9;"></div>
<div style="position:absolute;right:215px;top:934.5px;line-height:19px;font-size:13px;color:#000;white-space:pre;letter-spacing:-0.35px;">1.000</div>
<svg style="position:absolute;left:1709px;top:937.0px;" width="13" height="14" viewBox="0 0 13 14"><text x="0" y="7.5" font-size="8" fill="#222" font-family="Liberation Sans">1</text><text x="7" y="12.5" font-size="8" fill="#222" font-family="Liberation Sans">2</text><path d="M2.5 11.5 L9.5 2.5" stroke="#666" stroke-width="0.8"/></svg>
<div style="position:absolute;left:1805px;top:936px;width:2.7px;height:15px;background:#ffc1c1;"></div>
<div style="position:absolute;left:1805px;top:936px;width:1px;height:15px;background:#b9b9b9;"></div>
<div style="position:absolute;right:90px;top:934.5px;line-height:19px;font-size:13px;color:#000;white-space:pre;letter-spacing:-0.35px;">0.044</div>
</div></div>
<div style="position:absolute;left:1853px;top:721px;width:19px;height:227px;background:#f0f0f0;"></div>
<div style="position:absolute;left:1853px;top:742.5px;width:19px;height:91.0px;background:#c9c9c9;"></div>
<svg style="position:absolute;left:1857px;top:728.5px;" width="11" height="7" viewBox="0 0 11 7"><polyline points="1,5.8 5.5,1.3 10,5.8" fill="none" stroke="#3c3c3c" stroke-width="1.9"/></svg>
<svg style="position:absolute;left:1857px;top:934px;" width="11" height="7" viewBox="0 0 11 7"><polyline points="1,1.2 5.5,5.7 10,1.2" fill="none" stroke="#3c3c3c" stroke-width="1.9"/></svg>
<div style="position:absolute;left:1631px;top:953px;width:29px;height:24px;background:#cce4f7;"></div>
<div style="position:absolute;left:1664px;top:953px;width:29px;height:24px;background:#cce4f7;"></div>
<svg style="position:absolute;left:1632px;top:954px;" width="26" height="22" viewBox="0 0 26 22"><defs></defs><path d="M5 1.5 H21 L14.5 9 H11.5 Z" fill="#6d8ec6"/><path d="M11.5 9 H14.5 L13.6 15 H12.4 Z" fill="#9bb7e6"/><text x="13" y="20.5" font-size="10" text-anchor="middle" fill="#111" font-family="Liberation Sans">max</text></svg>
<svg style="position:absolute;left:1665px;top:954px;" width="26" height="22" viewBox="0 0 26 22"><path d="M5 1.5 H21 L14.5 9 H11.5 Z" fill="#6d8ec6"/><path d="M11.5 9 H14.5 L13.6 16 H12.4 Z" fill="#9bb7e6"/><circle cx="13" cy="19" r="2.2" fill="#e01010"/></svg>
</body></html>
